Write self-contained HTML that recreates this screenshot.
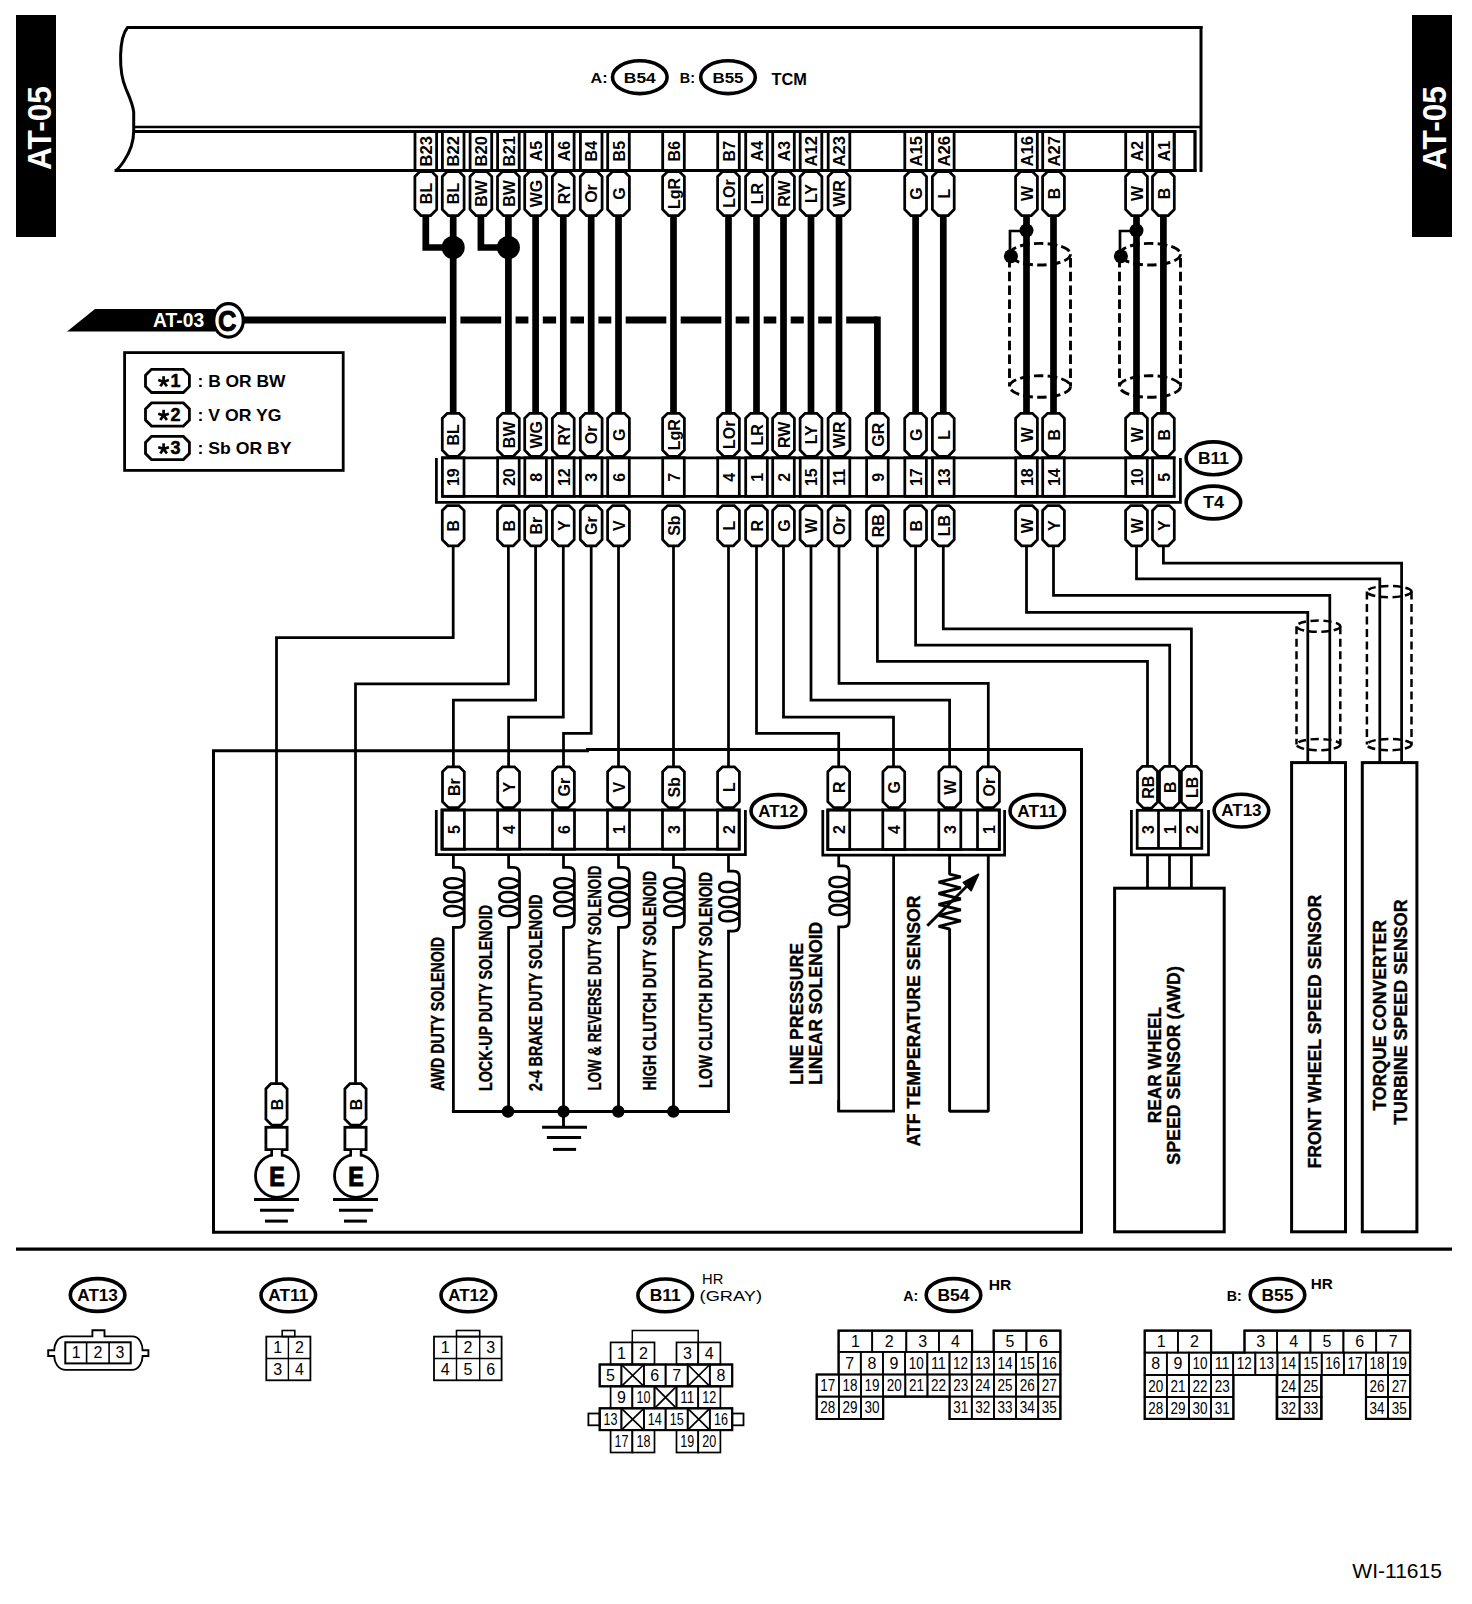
<!DOCTYPE html>
<html><head><meta charset="utf-8"><title>AT-05 wiring diagram</title>
<style>
html,body{margin:0;padding:0;background:#fff;}
svg{display:block;}
text{font-family:"Liberation Sans",sans-serif;}
</style></head>
<body>
<svg width="1472" height="1604" viewBox="0 0 1472 1604">
<rect x="0" y="0" width="1472" height="1604" fill="#fff"/>
<rect x="16" y="15" width="40" height="222" fill="#000"/>
<text transform="translate(51.1,170) rotate(-90)" font-size="34" font-weight="bold" text-anchor="start" fill="#fff" textLength="84" lengthAdjust="spacingAndGlyphs" >AT-05</text>
<rect x="1412" y="15" width="40" height="222" fill="#000"/>
<text transform="translate(1446.4,170) rotate(-90)" font-size="34" font-weight="bold" text-anchor="start" fill="#fff" textLength="84" lengthAdjust="spacingAndGlyphs" >AT-05</text>
<path d="M127.5,27.5 C123,33 121,42 120.6,55 C120.3,68 122,80 126,89 C129,96 132.5,103 133.7,112 L133.7,131 C133.7,142 130,152 124,161 C121,165.5 118.5,168.5 116,170.5" fill="none" stroke="#000" stroke-width="3"/>
<line x1="126.5" y1="27.5" x2="1202.5" y2="27.5" stroke="#000" stroke-width="3" />
<line x1="1201" y1="26" x2="1201" y2="172" stroke="#000" stroke-width="3" />
<line x1="133.7" y1="127" x2="1201" y2="127" stroke="#000" stroke-width="2.5" />
<line x1="133.7" y1="131.5" x2="1195.5" y2="131.5" stroke="#000" stroke-width="2.8" />
<line x1="1195" y1="130" x2="1195" y2="172" stroke="#000" stroke-width="2.8" />
<line x1="114.5" y1="170.5" x2="1196.4" y2="170.5" stroke="#000" stroke-width="2.8" />
<text x="590.6" y="83.4" font-size="15.5" font-weight="bold" text-anchor="start" fill="#000" textLength="17" lengthAdjust="spacingAndGlyphs" >A:</text>
<ellipse cx="639.8" cy="77.2" rx="27.3" ry="16.4" fill="#fff" stroke="#000" stroke-width="3.6"/>
<text x="639.8" y="82.75" font-size="15.5" font-weight="bold" text-anchor="middle" fill="#000" textLength="31.9" lengthAdjust="spacingAndGlyphs" >B54</text>
<text x="679.8" y="83.4" font-size="15.5" font-weight="bold" text-anchor="start" fill="#000" textLength="15.2" lengthAdjust="spacingAndGlyphs" >B:</text>
<ellipse cx="728" cy="77.2" rx="27.3" ry="16.4" fill="#fff" stroke="#000" stroke-width="3.6"/>
<text x="728" y="82.75" font-size="15.5" font-weight="bold" text-anchor="middle" fill="#000" textLength="31" lengthAdjust="spacingAndGlyphs" >B55</text>
<text x="771.6" y="85" font-size="16.5" font-weight="bold" text-anchor="start" fill="#000" textLength="35.4" lengthAdjust="spacingAndGlyphs" >TCM</text>
<rect x="415" y="131.5" width="21.6" height="39" fill="none" stroke="#000" stroke-width="2.8" />
<text transform="translate(432,151.2) rotate(-90)" font-size="16" font-weight="bold" text-anchor="middle" fill="#000" textLength="30.5" lengthAdjust="spacingAndGlyphs" >B23</text>
<rect x="442.4" y="131.5" width="21.6" height="39" fill="none" stroke="#000" stroke-width="2.8" />
<text transform="translate(459.4,151.2) rotate(-90)" font-size="16" font-weight="bold" text-anchor="middle" fill="#000" textLength="30.5" lengthAdjust="spacingAndGlyphs" >B22</text>
<rect x="470.1" y="131.5" width="21.6" height="39" fill="none" stroke="#000" stroke-width="2.8" />
<text transform="translate(487.1,151.2) rotate(-90)" font-size="16" font-weight="bold" text-anchor="middle" fill="#000" textLength="30.5" lengthAdjust="spacingAndGlyphs" >B20</text>
<rect x="497.6" y="131.5" width="21.6" height="39" fill="none" stroke="#000" stroke-width="2.8" />
<text transform="translate(514.6,151.2) rotate(-90)" font-size="16" font-weight="bold" text-anchor="middle" fill="#000" textLength="30.5" lengthAdjust="spacingAndGlyphs" >B21</text>
<rect x="524.8" y="131.5" width="21.6" height="39" fill="none" stroke="#000" stroke-width="2.8" />
<text transform="translate(541.8,151.2) rotate(-90)" font-size="16" font-weight="bold" text-anchor="middle" fill="#000" >A5</text>
<rect x="552.5" y="131.5" width="21.6" height="39" fill="none" stroke="#000" stroke-width="2.8" />
<text transform="translate(569.5,151.2) rotate(-90)" font-size="16" font-weight="bold" text-anchor="middle" fill="#000" >A6</text>
<rect x="580.4" y="131.5" width="21.6" height="39" fill="none" stroke="#000" stroke-width="2.8" />
<text transform="translate(597.4,151.2) rotate(-90)" font-size="16" font-weight="bold" text-anchor="middle" fill="#000" >B4</text>
<rect x="607.7" y="131.5" width="21.6" height="39" fill="none" stroke="#000" stroke-width="2.8" />
<text transform="translate(624.7,151.2) rotate(-90)" font-size="16" font-weight="bold" text-anchor="middle" fill="#000" >B5</text>
<rect x="662.7" y="131.5" width="21.6" height="39" fill="none" stroke="#000" stroke-width="2.8" />
<text transform="translate(679.7,151.2) rotate(-90)" font-size="16" font-weight="bold" text-anchor="middle" fill="#000" >B6</text>
<rect x="717.7" y="131.5" width="21.6" height="39" fill="none" stroke="#000" stroke-width="2.8" />
<text transform="translate(734.7,151.2) rotate(-90)" font-size="16" font-weight="bold" text-anchor="middle" fill="#000" >B7</text>
<rect x="745.7" y="131.5" width="21.6" height="39" fill="none" stroke="#000" stroke-width="2.8" />
<text transform="translate(762.7,151.2) rotate(-90)" font-size="16" font-weight="bold" text-anchor="middle" fill="#000" >A4</text>
<rect x="772.7" y="131.5" width="21.6" height="39" fill="none" stroke="#000" stroke-width="2.8" />
<text transform="translate(789.7,151.2) rotate(-90)" font-size="16" font-weight="bold" text-anchor="middle" fill="#000" >A3</text>
<rect x="800.2" y="131.5" width="21.6" height="39" fill="none" stroke="#000" stroke-width="2.8" />
<text transform="translate(817.2,151.2) rotate(-90)" font-size="16" font-weight="bold" text-anchor="middle" fill="#000" textLength="30.5" lengthAdjust="spacingAndGlyphs" >A12</text>
<rect x="828.2" y="131.5" width="21.6" height="39" fill="none" stroke="#000" stroke-width="2.8" />
<text transform="translate(845.2,151.2) rotate(-90)" font-size="16" font-weight="bold" text-anchor="middle" fill="#000" textLength="30.5" lengthAdjust="spacingAndGlyphs" >A23</text>
<rect x="904.8" y="131.5" width="21.6" height="39" fill="none" stroke="#000" stroke-width="2.8" />
<text transform="translate(921.8,151.2) rotate(-90)" font-size="16" font-weight="bold" text-anchor="middle" fill="#000" textLength="30.5" lengthAdjust="spacingAndGlyphs" >A15</text>
<rect x="932.5" y="131.5" width="21.6" height="39" fill="none" stroke="#000" stroke-width="2.8" />
<text transform="translate(949.5,151.2) rotate(-90)" font-size="16" font-weight="bold" text-anchor="middle" fill="#000" textLength="30.5" lengthAdjust="spacingAndGlyphs" >A26</text>
<rect x="1015.7" y="131.5" width="21.6" height="39" fill="none" stroke="#000" stroke-width="2.8" />
<text transform="translate(1032.7,151.2) rotate(-90)" font-size="16" font-weight="bold" text-anchor="middle" fill="#000" textLength="30.5" lengthAdjust="spacingAndGlyphs" >A16</text>
<rect x="1042.7" y="131.5" width="21.6" height="39" fill="none" stroke="#000" stroke-width="2.8" />
<text transform="translate(1059.7,151.2) rotate(-90)" font-size="16" font-weight="bold" text-anchor="middle" fill="#000" textLength="30.5" lengthAdjust="spacingAndGlyphs" >A27</text>
<rect x="1125.7" y="131.5" width="21.6" height="39" fill="none" stroke="#000" stroke-width="2.8" />
<text transform="translate(1142.7,151.2) rotate(-90)" font-size="16" font-weight="bold" text-anchor="middle" fill="#000" >A2</text>
<rect x="1152.6" y="131.5" width="21.6" height="39" fill="none" stroke="#000" stroke-width="2.8" />
<text transform="translate(1169.6,151.2) rotate(-90)" font-size="16" font-weight="bold" text-anchor="middle" fill="#000" >A1</text>
<rect x="1174.2" y="131.5" width="20.8" height="39" fill="none" stroke="#000" stroke-width="2.8" />
<line x1="235" y1="320" x2="877.4" y2="320" stroke="#000" stroke-width="7" />
<line x1="877.4" y1="316.5" x2="877.4" y2="414" stroke="#000" stroke-width="6.7" />
<rect x="446" y="315" width="14.4" height="10" fill="#fff"/>
<rect x="501.2" y="315" width="14.4" height="10" fill="#fff"/>
<rect x="528.4" y="315" width="14.4" height="10" fill="#fff"/>
<rect x="556.1" y="315" width="14.4" height="10" fill="#fff"/>
<rect x="584" y="315" width="14.4" height="10" fill="#fff"/>
<rect x="611.3" y="315" width="14.4" height="10" fill="#fff"/>
<rect x="666.3" y="315" width="14.4" height="10" fill="#fff"/>
<rect x="721.3" y="315" width="14.4" height="10" fill="#fff"/>
<rect x="749.3" y="315" width="14.4" height="10" fill="#fff"/>
<rect x="776.3" y="315" width="14.4" height="10" fill="#fff"/>
<rect x="803.8" y="315" width="14.4" height="10" fill="#fff"/>
<rect x="831.8" y="315" width="14.4" height="10" fill="#fff"/>
<line x1="453.2" y1="214" x2="453.2" y2="414" stroke="#000" stroke-width="6.7" />
<line x1="508.4" y1="214" x2="508.4" y2="414" stroke="#000" stroke-width="6.7" />
<line x1="535.6" y1="214" x2="535.6" y2="414" stroke="#000" stroke-width="6.7" />
<line x1="563.3" y1="214" x2="563.3" y2="414" stroke="#000" stroke-width="6.7" />
<line x1="591.2" y1="214" x2="591.2" y2="414" stroke="#000" stroke-width="6.7" />
<line x1="618.5" y1="214" x2="618.5" y2="414" stroke="#000" stroke-width="6.7" />
<line x1="673.5" y1="214" x2="673.5" y2="414" stroke="#000" stroke-width="6.7" />
<line x1="728.5" y1="214" x2="728.5" y2="414" stroke="#000" stroke-width="6.7" />
<line x1="756.5" y1="214" x2="756.5" y2="414" stroke="#000" stroke-width="6.7" />
<line x1="783.5" y1="214" x2="783.5" y2="414" stroke="#000" stroke-width="6.7" />
<line x1="811" y1="214" x2="811" y2="414" stroke="#000" stroke-width="6.7" />
<line x1="839" y1="214" x2="839" y2="414" stroke="#000" stroke-width="6.7" />
<line x1="915.6" y1="214" x2="915.6" y2="414" stroke="#000" stroke-width="6.7" />
<line x1="943.3" y1="214" x2="943.3" y2="414" stroke="#000" stroke-width="6.7" />
<line x1="1026.5" y1="214" x2="1026.5" y2="414" stroke="#000" stroke-width="6.7" />
<line x1="1053.5" y1="214" x2="1053.5" y2="414" stroke="#000" stroke-width="6.7" />
<line x1="1136.5" y1="214" x2="1136.5" y2="414" stroke="#000" stroke-width="6.7" />
<line x1="1163.4" y1="214" x2="1163.4" y2="414" stroke="#000" stroke-width="6.7" />
<polyline points="425.8,214 425.8,247.5 453.2,247.5" fill="none" stroke="#000" stroke-width="6.7" stroke-linejoin="miter"/>
<circle cx="453.2" cy="247.5" r="11.5" fill="#000"/>
<polyline points="480.9,214 480.9,247.5 508.4,247.5" fill="none" stroke="#000" stroke-width="6.7" stroke-linejoin="miter"/>
<circle cx="508.4" cy="247.5" r="11.5" fill="#000"/>
<path d="M414.9,176.5 L419.9,171.5 L431.7,171.5 L436.7,176.5 L436.7,209.5 L430.7,215.5 L420.9,215.5 L414.9,209.5 Z" fill="#fff" stroke="#000" stroke-width="2.75"/>
<text transform="translate(432,193.5) rotate(-90)" font-size="16" font-weight="bold" text-anchor="middle" fill="#000" >BL</text>
<path d="M442.3,176.5 L447.3,171.5 L459.1,171.5 L464.1,176.5 L464.1,209.5 L458.1,215.5 L448.3,215.5 L442.3,209.5 Z" fill="#fff" stroke="#000" stroke-width="2.75"/>
<text transform="translate(459.4,193.5) rotate(-90)" font-size="16" font-weight="bold" text-anchor="middle" fill="#000" >BL</text>
<path d="M470,176.5 L475,171.5 L486.8,171.5 L491.8,176.5 L491.8,209.5 L485.8,215.5 L476,215.5 L470,209.5 Z" fill="#fff" stroke="#000" stroke-width="2.75"/>
<text transform="translate(487.1,193.5) rotate(-90)" font-size="16" font-weight="bold" text-anchor="middle" fill="#000" >BW</text>
<path d="M497.5,176.5 L502.5,171.5 L514.3,171.5 L519.3,176.5 L519.3,209.5 L513.3,215.5 L503.5,215.5 L497.5,209.5 Z" fill="#fff" stroke="#000" stroke-width="2.75"/>
<text transform="translate(514.6,193.5) rotate(-90)" font-size="16" font-weight="bold" text-anchor="middle" fill="#000" >BW</text>
<path d="M524.7,176.5 L529.7,171.5 L541.5,171.5 L546.5,176.5 L546.5,209.5 L540.5,215.5 L530.7,215.5 L524.7,209.5 Z" fill="#fff" stroke="#000" stroke-width="2.75"/>
<text transform="translate(541.8,193.5) rotate(-90)" font-size="16" font-weight="bold" text-anchor="middle" fill="#000" >WG</text>
<path d="M552.4,176.5 L557.4,171.5 L569.2,171.5 L574.2,176.5 L574.2,209.5 L568.2,215.5 L558.4,215.5 L552.4,209.5 Z" fill="#fff" stroke="#000" stroke-width="2.75"/>
<text transform="translate(569.5,193.5) rotate(-90)" font-size="16" font-weight="bold" text-anchor="middle" fill="#000" >RY</text>
<path d="M580.3,176.5 L585.3,171.5 L597.1,171.5 L602.1,176.5 L602.1,209.5 L596.1,215.5 L586.3,215.5 L580.3,209.5 Z" fill="#fff" stroke="#000" stroke-width="2.75"/>
<text transform="translate(597.4,193.5) rotate(-90)" font-size="16" font-weight="bold" text-anchor="middle" fill="#000" >Or</text>
<path d="M607.6,176.5 L612.6,171.5 L624.4,171.5 L629.4,176.5 L629.4,209.5 L623.4,215.5 L613.6,215.5 L607.6,209.5 Z" fill="#fff" stroke="#000" stroke-width="2.75"/>
<text transform="translate(624.7,193.5) rotate(-90)" font-size="16" font-weight="bold" text-anchor="middle" fill="#000" >G</text>
<path d="M662.6,176.5 L667.6,171.5 L679.4,171.5 L684.4,176.5 L684.4,209.5 L678.4,215.5 L668.6,215.5 L662.6,209.5 Z" fill="#fff" stroke="#000" stroke-width="2.75"/>
<text transform="translate(679.7,193.5) rotate(-90)" font-size="16" font-weight="bold" text-anchor="middle" fill="#000" >LgR</text>
<path d="M717.6,176.5 L722.6,171.5 L734.4,171.5 L739.4,176.5 L739.4,209.5 L733.4,215.5 L723.6,215.5 L717.6,209.5 Z" fill="#fff" stroke="#000" stroke-width="2.75"/>
<text transform="translate(734.7,193.5) rotate(-90)" font-size="16" font-weight="bold" text-anchor="middle" fill="#000" >LOr</text>
<path d="M745.6,176.5 L750.6,171.5 L762.4,171.5 L767.4,176.5 L767.4,209.5 L761.4,215.5 L751.6,215.5 L745.6,209.5 Z" fill="#fff" stroke="#000" stroke-width="2.75"/>
<text transform="translate(762.7,193.5) rotate(-90)" font-size="16" font-weight="bold" text-anchor="middle" fill="#000" >LR</text>
<path d="M772.6,176.5 L777.6,171.5 L789.4,171.5 L794.4,176.5 L794.4,209.5 L788.4,215.5 L778.6,215.5 L772.6,209.5 Z" fill="#fff" stroke="#000" stroke-width="2.75"/>
<text transform="translate(789.7,193.5) rotate(-90)" font-size="16" font-weight="bold" text-anchor="middle" fill="#000" >RW</text>
<path d="M800.1,176.5 L805.1,171.5 L816.9,171.5 L821.9,176.5 L821.9,209.5 L815.9,215.5 L806.1,215.5 L800.1,209.5 Z" fill="#fff" stroke="#000" stroke-width="2.75"/>
<text transform="translate(817.2,193.5) rotate(-90)" font-size="16" font-weight="bold" text-anchor="middle" fill="#000" >LY</text>
<path d="M828.1,176.5 L833.1,171.5 L844.9,171.5 L849.9,176.5 L849.9,209.5 L843.9,215.5 L834.1,215.5 L828.1,209.5 Z" fill="#fff" stroke="#000" stroke-width="2.75"/>
<text transform="translate(845.2,193.5) rotate(-90)" font-size="16" font-weight="bold" text-anchor="middle" fill="#000" >WR</text>
<path d="M904.7,176.5 L909.7,171.5 L921.5,171.5 L926.5,176.5 L926.5,209.5 L920.5,215.5 L910.7,215.5 L904.7,209.5 Z" fill="#fff" stroke="#000" stroke-width="2.75"/>
<text transform="translate(921.8,193.5) rotate(-90)" font-size="16" font-weight="bold" text-anchor="middle" fill="#000" >G</text>
<path d="M932.4,176.5 L937.4,171.5 L949.2,171.5 L954.2,176.5 L954.2,209.5 L948.2,215.5 L938.4,215.5 L932.4,209.5 Z" fill="#fff" stroke="#000" stroke-width="2.75"/>
<text transform="translate(949.5,193.5) rotate(-90)" font-size="16" font-weight="bold" text-anchor="middle" fill="#000" >L</text>
<path d="M1015.6,176.5 L1020.6,171.5 L1032.4,171.5 L1037.4,176.5 L1037.4,209.5 L1031.4,215.5 L1021.6,215.5 L1015.6,209.5 Z" fill="#fff" stroke="#000" stroke-width="2.75"/>
<text transform="translate(1032.7,193.5) rotate(-90)" font-size="16" font-weight="bold" text-anchor="middle" fill="#000" >W</text>
<path d="M1042.6,176.5 L1047.6,171.5 L1059.4,171.5 L1064.4,176.5 L1064.4,209.5 L1058.4,215.5 L1048.6,215.5 L1042.6,209.5 Z" fill="#fff" stroke="#000" stroke-width="2.75"/>
<text transform="translate(1059.7,193.5) rotate(-90)" font-size="16" font-weight="bold" text-anchor="middle" fill="#000" >B</text>
<path d="M1125.6,176.5 L1130.6,171.5 L1142.4,171.5 L1147.4,176.5 L1147.4,209.5 L1141.4,215.5 L1131.6,215.5 L1125.6,209.5 Z" fill="#fff" stroke="#000" stroke-width="2.75"/>
<text transform="translate(1142.7,193.5) rotate(-90)" font-size="16" font-weight="bold" text-anchor="middle" fill="#000" >W</text>
<path d="M1152.5,176.5 L1157.5,171.5 L1169.3,171.5 L1174.3,176.5 L1174.3,209.5 L1168.3,215.5 L1158.5,215.5 L1152.5,209.5 Z" fill="#fff" stroke="#000" stroke-width="2.75"/>
<text transform="translate(1169.6,193.5) rotate(-90)" font-size="16" font-weight="bold" text-anchor="middle" fill="#000" >B</text>
<circle cx="1026.5" cy="230.5" r="7" fill="#000"/>
<polyline points="1026.5,231 1010,231 1010,256" fill="none" stroke="#000" stroke-width="2.7" stroke-linejoin="miter"/>
<circle cx="1010.9" cy="256.2" r="7" fill="#000"/>
<ellipse cx="1040" cy="254.2" rx="30.5" ry="10.8" fill="none" stroke="#000" stroke-width="2.9" stroke-dasharray="9.5 4.3"/>
<ellipse cx="1040" cy="386.5" rx="30.5" ry="10.8" fill="none" stroke="#000" stroke-width="2.9" stroke-dasharray="9.5 4.3"/>
<line x1="1009.5" y1="258" x2="1009.5" y2="386.5" stroke="#000" stroke-width="2.9" stroke-dasharray="9.5 4.3"/>
<line x1="1070.5" y1="258" x2="1070.5" y2="386.5" stroke="#000" stroke-width="2.9" stroke-dasharray="9.5 4.3"/>
<circle cx="1136.5" cy="230.5" r="7" fill="#000"/>
<polyline points="1136.5,231 1120,231 1120,256" fill="none" stroke="#000" stroke-width="2.7" stroke-linejoin="miter"/>
<circle cx="1120.9" cy="256.2" r="7" fill="#000"/>
<ellipse cx="1150" cy="254.2" rx="30.5" ry="10.8" fill="none" stroke="#000" stroke-width="2.9" stroke-dasharray="9.5 4.3"/>
<ellipse cx="1150" cy="386.5" rx="30.5" ry="10.8" fill="none" stroke="#000" stroke-width="2.9" stroke-dasharray="9.5 4.3"/>
<line x1="1119.5" y1="258" x2="1119.5" y2="386.5" stroke="#000" stroke-width="2.9" stroke-dasharray="9.5 4.3"/>
<line x1="1180.5" y1="258" x2="1180.5" y2="386.5" stroke="#000" stroke-width="2.9" stroke-dasharray="9.5 4.3"/>
<polygon points="67,331.5 95,309 215,309 215,331.5" fill="#000"/>
<text x="153.1" y="326.8" font-size="19.5" font-weight="bold" text-anchor="start" fill="#fff" textLength="51.1" lengthAdjust="spacingAndGlyphs" >AT-03</text>
<ellipse cx="228.5" cy="320.4" rx="14.8" ry="16.8" fill="#fff" stroke="#000" stroke-width="3.2"/>
<text x="227.3" y="331.2" font-size="29" font-weight="bold" text-anchor="middle" fill="#000" textLength="18.5" lengthAdjust="spacingAndGlyphs" stroke="#000" stroke-width="0.9">C</text>
<rect x="124.6" y="352.6" width="218.6" height="117.8" fill="none" stroke="#000" stroke-width="2.8" />
<path d="M145.5,375.3 L151.5,369.3 L183.4,369.3 L189.4,375.3 L189.4,386.5 L183.4,392.5 L151.5,392.5 L145.5,386.5 Z" fill="#fff" stroke="#000" stroke-width="2.8"/>
<line x1="163.6" y1="381.8" x2="163.6" y2="376.2" stroke="#000" stroke-width="2.7" />
<line x1="163.6" y1="381.8" x2="168.93" y2="380.07" stroke="#000" stroke-width="2.7" />
<line x1="163.6" y1="381.8" x2="166.89" y2="386.33" stroke="#000" stroke-width="2.7" />
<line x1="163.6" y1="381.8" x2="160.31" y2="386.33" stroke="#000" stroke-width="2.7" />
<line x1="163.6" y1="381.8" x2="158.27" y2="380.07" stroke="#000" stroke-width="2.7" />
<text x="170.4" y="387.3" font-size="18" font-weight="bold" text-anchor="start" fill="#000" stroke="#000" stroke-width="0.5">1</text>
<text x="197.5" y="387.2" font-size="16.5" font-weight="bold" text-anchor="start" fill="#000" textLength="88" lengthAdjust="spacingAndGlyphs" >: B OR BW</text>
<path d="M145.5,408.9 L151.5,402.9 L183.4,402.9 L189.4,408.9 L189.4,420.1 L183.4,426.1 L151.5,426.1 L145.5,420.1 Z" fill="#fff" stroke="#000" stroke-width="2.8"/>
<line x1="163.6" y1="415.4" x2="163.6" y2="409.8" stroke="#000" stroke-width="2.7" />
<line x1="163.6" y1="415.4" x2="168.93" y2="413.67" stroke="#000" stroke-width="2.7" />
<line x1="163.6" y1="415.4" x2="166.89" y2="419.93" stroke="#000" stroke-width="2.7" />
<line x1="163.6" y1="415.4" x2="160.31" y2="419.93" stroke="#000" stroke-width="2.7" />
<line x1="163.6" y1="415.4" x2="158.27" y2="413.67" stroke="#000" stroke-width="2.7" />
<text x="170.4" y="420.9" font-size="18" font-weight="bold" text-anchor="start" fill="#000" stroke="#000" stroke-width="0.5">2</text>
<text x="197.5" y="420.8" font-size="16.5" font-weight="bold" text-anchor="start" fill="#000" textLength="84" lengthAdjust="spacingAndGlyphs" >: V OR YG</text>
<path d="M145.5,442.4 L151.5,436.4 L183.4,436.4 L189.4,442.4 L189.4,453.6 L183.4,459.6 L151.5,459.6 L145.5,453.6 Z" fill="#fff" stroke="#000" stroke-width="2.8"/>
<line x1="163.6" y1="448.9" x2="163.6" y2="443.3" stroke="#000" stroke-width="2.7" />
<line x1="163.6" y1="448.9" x2="168.93" y2="447.17" stroke="#000" stroke-width="2.7" />
<line x1="163.6" y1="448.9" x2="166.89" y2="453.43" stroke="#000" stroke-width="2.7" />
<line x1="163.6" y1="448.9" x2="160.31" y2="453.43" stroke="#000" stroke-width="2.7" />
<line x1="163.6" y1="448.9" x2="158.27" y2="447.17" stroke="#000" stroke-width="2.7" />
<text x="170.4" y="454.4" font-size="18" font-weight="bold" text-anchor="start" fill="#000" stroke="#000" stroke-width="0.5">3</text>
<text x="197.5" y="454.3" font-size="16.5" font-weight="bold" text-anchor="start" fill="#000" textLength="94" lengthAdjust="spacingAndGlyphs" >: Sb OR BY</text>
<path d="M442.3,418.3 L447.3,413.3 L459.1,413.3 L464.1,418.3 L464.1,450.3 L458.1,456.3 L448.3,456.3 L442.3,450.3 Z" fill="#fff" stroke="#000" stroke-width="2.75"/>
<text transform="translate(459.4,434.8) rotate(-90)" font-size="16" font-weight="bold" text-anchor="middle" fill="#000" >BL</text>
<path d="M497.5,418.3 L502.5,413.3 L514.3,413.3 L519.3,418.3 L519.3,450.3 L513.3,456.3 L503.5,456.3 L497.5,450.3 Z" fill="#fff" stroke="#000" stroke-width="2.75"/>
<text transform="translate(514.6,434.8) rotate(-90)" font-size="16" font-weight="bold" text-anchor="middle" fill="#000" >BW</text>
<path d="M524.7,418.3 L529.7,413.3 L541.5,413.3 L546.5,418.3 L546.5,450.3 L540.5,456.3 L530.7,456.3 L524.7,450.3 Z" fill="#fff" stroke="#000" stroke-width="2.75"/>
<text transform="translate(541.8,434.8) rotate(-90)" font-size="16" font-weight="bold" text-anchor="middle" fill="#000" >WG</text>
<path d="M552.4,418.3 L557.4,413.3 L569.2,413.3 L574.2,418.3 L574.2,450.3 L568.2,456.3 L558.4,456.3 L552.4,450.3 Z" fill="#fff" stroke="#000" stroke-width="2.75"/>
<text transform="translate(569.5,434.8) rotate(-90)" font-size="16" font-weight="bold" text-anchor="middle" fill="#000" >RY</text>
<path d="M580.3,418.3 L585.3,413.3 L597.1,413.3 L602.1,418.3 L602.1,450.3 L596.1,456.3 L586.3,456.3 L580.3,450.3 Z" fill="#fff" stroke="#000" stroke-width="2.75"/>
<text transform="translate(597.4,434.8) rotate(-90)" font-size="16" font-weight="bold" text-anchor="middle" fill="#000" >Or</text>
<path d="M607.6,418.3 L612.6,413.3 L624.4,413.3 L629.4,418.3 L629.4,450.3 L623.4,456.3 L613.6,456.3 L607.6,450.3 Z" fill="#fff" stroke="#000" stroke-width="2.75"/>
<text transform="translate(624.7,434.8) rotate(-90)" font-size="16" font-weight="bold" text-anchor="middle" fill="#000" >G</text>
<path d="M662.6,418.3 L667.6,413.3 L679.4,413.3 L684.4,418.3 L684.4,450.3 L678.4,456.3 L668.6,456.3 L662.6,450.3 Z" fill="#fff" stroke="#000" stroke-width="2.75"/>
<text transform="translate(679.7,434.8) rotate(-90)" font-size="16" font-weight="bold" text-anchor="middle" fill="#000" >LgR</text>
<path d="M717.6,418.3 L722.6,413.3 L734.4,413.3 L739.4,418.3 L739.4,450.3 L733.4,456.3 L723.6,456.3 L717.6,450.3 Z" fill="#fff" stroke="#000" stroke-width="2.75"/>
<text transform="translate(734.7,434.8) rotate(-90)" font-size="16" font-weight="bold" text-anchor="middle" fill="#000" >LOr</text>
<path d="M745.6,418.3 L750.6,413.3 L762.4,413.3 L767.4,418.3 L767.4,450.3 L761.4,456.3 L751.6,456.3 L745.6,450.3 Z" fill="#fff" stroke="#000" stroke-width="2.75"/>
<text transform="translate(762.7,434.8) rotate(-90)" font-size="16" font-weight="bold" text-anchor="middle" fill="#000" >LR</text>
<path d="M772.6,418.3 L777.6,413.3 L789.4,413.3 L794.4,418.3 L794.4,450.3 L788.4,456.3 L778.6,456.3 L772.6,450.3 Z" fill="#fff" stroke="#000" stroke-width="2.75"/>
<text transform="translate(789.7,434.8) rotate(-90)" font-size="16" font-weight="bold" text-anchor="middle" fill="#000" >RW</text>
<path d="M800.1,418.3 L805.1,413.3 L816.9,413.3 L821.9,418.3 L821.9,450.3 L815.9,456.3 L806.1,456.3 L800.1,450.3 Z" fill="#fff" stroke="#000" stroke-width="2.75"/>
<text transform="translate(817.2,434.8) rotate(-90)" font-size="16" font-weight="bold" text-anchor="middle" fill="#000" >LY</text>
<path d="M828.1,418.3 L833.1,413.3 L844.9,413.3 L849.9,418.3 L849.9,450.3 L843.9,456.3 L834.1,456.3 L828.1,450.3 Z" fill="#fff" stroke="#000" stroke-width="2.75"/>
<text transform="translate(845.2,434.8) rotate(-90)" font-size="16" font-weight="bold" text-anchor="middle" fill="#000" >WR</text>
<path d="M866.5,418.3 L871.5,413.3 L883.3,413.3 L888.3,418.3 L888.3,450.3 L882.3,456.3 L872.5,456.3 L866.5,450.3 Z" fill="#fff" stroke="#000" stroke-width="2.75"/>
<text transform="translate(883.6,434.8) rotate(-90)" font-size="16" font-weight="bold" text-anchor="middle" fill="#000" >GR</text>
<path d="M904.7,418.3 L909.7,413.3 L921.5,413.3 L926.5,418.3 L926.5,450.3 L920.5,456.3 L910.7,456.3 L904.7,450.3 Z" fill="#fff" stroke="#000" stroke-width="2.75"/>
<text transform="translate(921.8,434.8) rotate(-90)" font-size="16" font-weight="bold" text-anchor="middle" fill="#000" >G</text>
<path d="M932.4,418.3 L937.4,413.3 L949.2,413.3 L954.2,418.3 L954.2,450.3 L948.2,456.3 L938.4,456.3 L932.4,450.3 Z" fill="#fff" stroke="#000" stroke-width="2.75"/>
<text transform="translate(949.5,434.8) rotate(-90)" font-size="16" font-weight="bold" text-anchor="middle" fill="#000" >L</text>
<path d="M1015.6,418.3 L1020.6,413.3 L1032.4,413.3 L1037.4,418.3 L1037.4,450.3 L1031.4,456.3 L1021.6,456.3 L1015.6,450.3 Z" fill="#fff" stroke="#000" stroke-width="2.75"/>
<text transform="translate(1032.7,434.8) rotate(-90)" font-size="16" font-weight="bold" text-anchor="middle" fill="#000" >W</text>
<path d="M1042.6,418.3 L1047.6,413.3 L1059.4,413.3 L1064.4,418.3 L1064.4,450.3 L1058.4,456.3 L1048.6,456.3 L1042.6,450.3 Z" fill="#fff" stroke="#000" stroke-width="2.75"/>
<text transform="translate(1059.7,434.8) rotate(-90)" font-size="16" font-weight="bold" text-anchor="middle" fill="#000" >B</text>
<path d="M1125.6,418.3 L1130.6,413.3 L1142.4,413.3 L1147.4,418.3 L1147.4,450.3 L1141.4,456.3 L1131.6,456.3 L1125.6,450.3 Z" fill="#fff" stroke="#000" stroke-width="2.75"/>
<text transform="translate(1142.7,434.8) rotate(-90)" font-size="16" font-weight="bold" text-anchor="middle" fill="#000" >W</text>
<path d="M1152.5,418.3 L1157.5,413.3 L1169.3,413.3 L1174.3,418.3 L1174.3,450.3 L1168.3,456.3 L1158.5,456.3 L1152.5,450.3 Z" fill="#fff" stroke="#000" stroke-width="2.75"/>
<text transform="translate(1169.6,434.8) rotate(-90)" font-size="16" font-weight="bold" text-anchor="middle" fill="#000" >B</text>
<line x1="441.5" y1="457.8" x2="1175.5" y2="457.8" stroke="#000" stroke-width="2.75" />
<line x1="441.5" y1="496.3" x2="1175.5" y2="496.3" stroke="#000" stroke-width="2.75" />
<polyline points="436.4,458 436.4,502.3 1180.4,502.3 1180.4,458" fill="none" stroke="#000" stroke-width="2.75" stroke-linejoin="miter"/>
<rect x="442.4" y="457.8" width="21.6" height="38.5" fill="none" stroke="#000" stroke-width="2.75" />
<text transform="translate(459.4,477.2) rotate(-90)" font-size="16" font-weight="bold" text-anchor="middle" fill="#000" >19</text>
<rect x="497.6" y="457.8" width="21.6" height="38.5" fill="none" stroke="#000" stroke-width="2.75" />
<text transform="translate(514.6,477.2) rotate(-90)" font-size="16" font-weight="bold" text-anchor="middle" fill="#000" >20</text>
<rect x="524.8" y="457.8" width="21.6" height="38.5" fill="none" stroke="#000" stroke-width="2.75" />
<text transform="translate(541.8,477.2) rotate(-90)" font-size="16" font-weight="bold" text-anchor="middle" fill="#000" >8</text>
<rect x="552.5" y="457.8" width="21.6" height="38.5" fill="none" stroke="#000" stroke-width="2.75" />
<text transform="translate(569.5,477.2) rotate(-90)" font-size="16" font-weight="bold" text-anchor="middle" fill="#000" >12</text>
<rect x="580.4" y="457.8" width="21.6" height="38.5" fill="none" stroke="#000" stroke-width="2.75" />
<text transform="translate(597.4,477.2) rotate(-90)" font-size="16" font-weight="bold" text-anchor="middle" fill="#000" >3</text>
<rect x="607.7" y="457.8" width="21.6" height="38.5" fill="none" stroke="#000" stroke-width="2.75" />
<text transform="translate(624.7,477.2) rotate(-90)" font-size="16" font-weight="bold" text-anchor="middle" fill="#000" >6</text>
<rect x="662.7" y="457.8" width="21.6" height="38.5" fill="none" stroke="#000" stroke-width="2.75" />
<text transform="translate(679.7,477.2) rotate(-90)" font-size="16" font-weight="bold" text-anchor="middle" fill="#000" >7</text>
<rect x="717.7" y="457.8" width="21.6" height="38.5" fill="none" stroke="#000" stroke-width="2.75" />
<text transform="translate(734.7,477.2) rotate(-90)" font-size="16" font-weight="bold" text-anchor="middle" fill="#000" >4</text>
<rect x="745.7" y="457.8" width="21.6" height="38.5" fill="none" stroke="#000" stroke-width="2.75" />
<text transform="translate(762.7,477.2) rotate(-90)" font-size="16" font-weight="bold" text-anchor="middle" fill="#000" >1</text>
<rect x="772.7" y="457.8" width="21.6" height="38.5" fill="none" stroke="#000" stroke-width="2.75" />
<text transform="translate(789.7,477.2) rotate(-90)" font-size="16" font-weight="bold" text-anchor="middle" fill="#000" >2</text>
<rect x="800.2" y="457.8" width="21.6" height="38.5" fill="none" stroke="#000" stroke-width="2.75" />
<text transform="translate(817.2,477.2) rotate(-90)" font-size="16" font-weight="bold" text-anchor="middle" fill="#000" >15</text>
<rect x="828.2" y="457.8" width="21.6" height="38.5" fill="none" stroke="#000" stroke-width="2.75" />
<text transform="translate(845.2,477.2) rotate(-90)" font-size="16" font-weight="bold" text-anchor="middle" fill="#000" >11</text>
<rect x="866.6" y="457.8" width="21.6" height="38.5" fill="none" stroke="#000" stroke-width="2.75" />
<text transform="translate(883.6,477.2) rotate(-90)" font-size="16" font-weight="bold" text-anchor="middle" fill="#000" >9</text>
<rect x="904.8" y="457.8" width="21.6" height="38.5" fill="none" stroke="#000" stroke-width="2.75" />
<text transform="translate(921.8,477.2) rotate(-90)" font-size="16" font-weight="bold" text-anchor="middle" fill="#000" >17</text>
<rect x="932.5" y="457.8" width="21.6" height="38.5" fill="none" stroke="#000" stroke-width="2.75" />
<text transform="translate(949.5,477.2) rotate(-90)" font-size="16" font-weight="bold" text-anchor="middle" fill="#000" >13</text>
<rect x="1015.7" y="457.8" width="21.6" height="38.5" fill="none" stroke="#000" stroke-width="2.75" />
<text transform="translate(1032.7,477.2) rotate(-90)" font-size="16" font-weight="bold" text-anchor="middle" fill="#000" >18</text>
<rect x="1042.7" y="457.8" width="21.6" height="38.5" fill="none" stroke="#000" stroke-width="2.75" />
<text transform="translate(1059.7,477.2) rotate(-90)" font-size="16" font-weight="bold" text-anchor="middle" fill="#000" >14</text>
<rect x="1125.7" y="457.8" width="21.6" height="38.5" fill="none" stroke="#000" stroke-width="2.75" />
<text transform="translate(1142.7,477.2) rotate(-90)" font-size="16" font-weight="bold" text-anchor="middle" fill="#000" >10</text>
<rect x="1152.6" y="457.8" width="21.6" height="38.5" fill="none" stroke="#000" stroke-width="2.75" />
<text transform="translate(1169.6,477.2) rotate(-90)" font-size="16" font-weight="bold" text-anchor="middle" fill="#000" >5</text>
<ellipse cx="1213.4" cy="458.3" rx="27.3" ry="16.4" fill="#fff" stroke="#000" stroke-width="3.6"/>
<text x="1213.4" y="464.03" font-size="16" font-weight="bold" text-anchor="middle" fill="#000" textLength="31" lengthAdjust="spacingAndGlyphs" >B11</text>
<ellipse cx="1213.4" cy="502.5" rx="27.3" ry="16.4" fill="#fff" stroke="#000" stroke-width="3.6"/>
<text x="1213.4" y="508.23" font-size="16" font-weight="bold" text-anchor="middle" fill="#000" textLength="21" lengthAdjust="spacingAndGlyphs" >T4</text>
<polyline points="453.2,546 453.2,637.5 276.5,637.5 276.5,1084" fill="none" stroke="#000" stroke-width="2.75" stroke-linejoin="miter"/>
<polyline points="508.4,546 508.4,683.8 355.5,683.8 355.5,1084" fill="none" stroke="#000" stroke-width="2.75" stroke-linejoin="miter"/>
<polyline points="535.6,546 535.6,700 453.4,700 453.4,767" fill="none" stroke="#000" stroke-width="2.75" stroke-linejoin="miter"/>
<polyline points="563.3,546 563.3,717 508.6,717 508.6,767" fill="none" stroke="#000" stroke-width="2.75" stroke-linejoin="miter"/>
<polyline points="591.2,546 591.2,733.3 563.5,733.3 563.5,767" fill="none" stroke="#000" stroke-width="2.75" stroke-linejoin="miter"/>
<polyline points="618.5,546 618.5,767" fill="none" stroke="#000" stroke-width="2.75" stroke-linejoin="miter"/>
<polyline points="673.5,546 673.5,767" fill="none" stroke="#000" stroke-width="2.75" stroke-linejoin="miter"/>
<polyline points="728.5,546 728.5,767" fill="none" stroke="#000" stroke-width="2.75" stroke-linejoin="miter"/>
<polyline points="756.5,546 756.5,733.3 838.7,733.3 838.7,767" fill="none" stroke="#000" stroke-width="2.75" stroke-linejoin="miter"/>
<polyline points="783.5,546 783.5,717 893.5,717 893.5,767" fill="none" stroke="#000" stroke-width="2.75" stroke-linejoin="miter"/>
<polyline points="811,546 811,700 949.6,700 949.6,767" fill="none" stroke="#000" stroke-width="2.75" stroke-linejoin="miter"/>
<polyline points="839,546 839,683.3 988.3,683.3 988.3,767" fill="none" stroke="#000" stroke-width="2.75" stroke-linejoin="miter"/>
<polyline points="877.4,546 877.4,661.3 1147.5,661.3 1147.5,766" fill="none" stroke="#000" stroke-width="2.75" stroke-linejoin="miter"/>
<polyline points="915.6,546 915.6,645 1169.7,645 1169.7,766" fill="none" stroke="#000" stroke-width="2.75" stroke-linejoin="miter"/>
<polyline points="943.3,546 943.3,628.8 1191.4,628.8 1191.4,766" fill="none" stroke="#000" stroke-width="2.75" stroke-linejoin="miter"/>
<polyline points="1026.5,546 1026.5,612.3 1307.8,612.3 1307.8,762" fill="none" stroke="#000" stroke-width="2.75" stroke-linejoin="miter"/>
<polyline points="1053.5,546 1053.5,595.3 1329.8,595.3 1329.8,762" fill="none" stroke="#000" stroke-width="2.75" stroke-linejoin="miter"/>
<polyline points="1136.5,546 1136.5,578.8 1379.8,578.8 1379.8,762" fill="none" stroke="#000" stroke-width="2.75" stroke-linejoin="miter"/>
<polyline points="1163.4,546 1163.4,563.2 1401.6,563.2 1401.6,762" fill="none" stroke="#000" stroke-width="2.75" stroke-linejoin="miter"/>
<path d="M442.3,510.5 L447.3,505.5 L459.1,505.5 L464.1,510.5 L464.1,539.8 L458.1,545.8 L448.3,545.8 L442.3,539.8 Z" fill="#fff" stroke="#000" stroke-width="2.75"/>
<text transform="translate(459.4,525.65) rotate(-90)" font-size="16" font-weight="bold" text-anchor="middle" fill="#000" >B</text>
<path d="M497.5,510.5 L502.5,505.5 L514.3,505.5 L519.3,510.5 L519.3,539.8 L513.3,545.8 L503.5,545.8 L497.5,539.8 Z" fill="#fff" stroke="#000" stroke-width="2.75"/>
<text transform="translate(514.6,525.65) rotate(-90)" font-size="16" font-weight="bold" text-anchor="middle" fill="#000" >B</text>
<path d="M524.7,510.5 L529.7,505.5 L541.5,505.5 L546.5,510.5 L546.5,539.8 L540.5,545.8 L530.7,545.8 L524.7,539.8 Z" fill="#fff" stroke="#000" stroke-width="2.75"/>
<text transform="translate(541.8,525.65) rotate(-90)" font-size="16" font-weight="bold" text-anchor="middle" fill="#000" >Br</text>
<path d="M552.4,510.5 L557.4,505.5 L569.2,505.5 L574.2,510.5 L574.2,539.8 L568.2,545.8 L558.4,545.8 L552.4,539.8 Z" fill="#fff" stroke="#000" stroke-width="2.75"/>
<text transform="translate(569.5,525.65) rotate(-90)" font-size="16" font-weight="bold" text-anchor="middle" fill="#000" >Y</text>
<path d="M580.3,510.5 L585.3,505.5 L597.1,505.5 L602.1,510.5 L602.1,539.8 L596.1,545.8 L586.3,545.8 L580.3,539.8 Z" fill="#fff" stroke="#000" stroke-width="2.75"/>
<text transform="translate(597.4,525.65) rotate(-90)" font-size="16" font-weight="bold" text-anchor="middle" fill="#000" >Gr</text>
<path d="M607.6,510.5 L612.6,505.5 L624.4,505.5 L629.4,510.5 L629.4,539.8 L623.4,545.8 L613.6,545.8 L607.6,539.8 Z" fill="#fff" stroke="#000" stroke-width="2.75"/>
<text transform="translate(624.7,525.65) rotate(-90)" font-size="16" font-weight="bold" text-anchor="middle" fill="#000" >V</text>
<path d="M662.6,510.5 L667.6,505.5 L679.4,505.5 L684.4,510.5 L684.4,539.8 L678.4,545.8 L668.6,545.8 L662.6,539.8 Z" fill="#fff" stroke="#000" stroke-width="2.75"/>
<text transform="translate(679.7,525.65) rotate(-90)" font-size="16" font-weight="bold" text-anchor="middle" fill="#000" >Sb</text>
<path d="M717.6,510.5 L722.6,505.5 L734.4,505.5 L739.4,510.5 L739.4,539.8 L733.4,545.8 L723.6,545.8 L717.6,539.8 Z" fill="#fff" stroke="#000" stroke-width="2.75"/>
<text transform="translate(734.7,525.65) rotate(-90)" font-size="16" font-weight="bold" text-anchor="middle" fill="#000" >L</text>
<path d="M745.6,510.5 L750.6,505.5 L762.4,505.5 L767.4,510.5 L767.4,539.8 L761.4,545.8 L751.6,545.8 L745.6,539.8 Z" fill="#fff" stroke="#000" stroke-width="2.75"/>
<text transform="translate(762.7,525.65) rotate(-90)" font-size="16" font-weight="bold" text-anchor="middle" fill="#000" >R</text>
<path d="M772.6,510.5 L777.6,505.5 L789.4,505.5 L794.4,510.5 L794.4,539.8 L788.4,545.8 L778.6,545.8 L772.6,539.8 Z" fill="#fff" stroke="#000" stroke-width="2.75"/>
<text transform="translate(789.7,525.65) rotate(-90)" font-size="16" font-weight="bold" text-anchor="middle" fill="#000" >G</text>
<path d="M800.1,510.5 L805.1,505.5 L816.9,505.5 L821.9,510.5 L821.9,539.8 L815.9,545.8 L806.1,545.8 L800.1,539.8 Z" fill="#fff" stroke="#000" stroke-width="2.75"/>
<text transform="translate(817.2,525.65) rotate(-90)" font-size="16" font-weight="bold" text-anchor="middle" fill="#000" >W</text>
<path d="M828.1,510.5 L833.1,505.5 L844.9,505.5 L849.9,510.5 L849.9,539.8 L843.9,545.8 L834.1,545.8 L828.1,539.8 Z" fill="#fff" stroke="#000" stroke-width="2.75"/>
<text transform="translate(845.2,525.65) rotate(-90)" font-size="16" font-weight="bold" text-anchor="middle" fill="#000" >Or</text>
<path d="M866.5,510.5 L871.5,505.5 L883.3,505.5 L888.3,510.5 L888.3,539.8 L882.3,545.8 L872.5,545.8 L866.5,539.8 Z" fill="#fff" stroke="#000" stroke-width="2.75"/>
<text transform="translate(883.6,525.65) rotate(-90)" font-size="16" font-weight="bold" text-anchor="middle" fill="#000" >RB</text>
<path d="M904.7,510.5 L909.7,505.5 L921.5,505.5 L926.5,510.5 L926.5,539.8 L920.5,545.8 L910.7,545.8 L904.7,539.8 Z" fill="#fff" stroke="#000" stroke-width="2.75"/>
<text transform="translate(921.8,525.65) rotate(-90)" font-size="16" font-weight="bold" text-anchor="middle" fill="#000" >B</text>
<path d="M932.4,510.5 L937.4,505.5 L949.2,505.5 L954.2,510.5 L954.2,539.8 L948.2,545.8 L938.4,545.8 L932.4,539.8 Z" fill="#fff" stroke="#000" stroke-width="2.75"/>
<text transform="translate(949.5,525.65) rotate(-90)" font-size="16" font-weight="bold" text-anchor="middle" fill="#000" >LB</text>
<path d="M1015.6,510.5 L1020.6,505.5 L1032.4,505.5 L1037.4,510.5 L1037.4,539.8 L1031.4,545.8 L1021.6,545.8 L1015.6,539.8 Z" fill="#fff" stroke="#000" stroke-width="2.75"/>
<text transform="translate(1032.7,525.65) rotate(-90)" font-size="16" font-weight="bold" text-anchor="middle" fill="#000" >W</text>
<path d="M1042.6,510.5 L1047.6,505.5 L1059.4,505.5 L1064.4,510.5 L1064.4,539.8 L1058.4,545.8 L1048.6,545.8 L1042.6,539.8 Z" fill="#fff" stroke="#000" stroke-width="2.75"/>
<text transform="translate(1059.7,525.65) rotate(-90)" font-size="16" font-weight="bold" text-anchor="middle" fill="#000" >Y</text>
<path d="M1125.6,510.5 L1130.6,505.5 L1142.4,505.5 L1147.4,510.5 L1147.4,539.8 L1141.4,545.8 L1131.6,545.8 L1125.6,539.8 Z" fill="#fff" stroke="#000" stroke-width="2.75"/>
<text transform="translate(1142.7,525.65) rotate(-90)" font-size="16" font-weight="bold" text-anchor="middle" fill="#000" >W</text>
<path d="M1152.5,510.5 L1157.5,505.5 L1169.3,505.5 L1174.3,510.5 L1174.3,539.8 L1168.3,545.8 L1158.5,545.8 L1152.5,539.8 Z" fill="#fff" stroke="#000" stroke-width="2.75"/>
<text transform="translate(1169.6,525.65) rotate(-90)" font-size="16" font-weight="bold" text-anchor="middle" fill="#000" >Y</text>
<ellipse cx="1318.4" cy="626.2" rx="21.9" ry="5.6" fill="none" stroke="#000" stroke-width="2.5" stroke-dasharray="8 4.5"/>
<ellipse cx="1318.4" cy="744.6" rx="21.9" ry="5.6" fill="none" stroke="#000" stroke-width="2.5" stroke-dasharray="8 4.5"/>
<line x1="1296.5" y1="626.2" x2="1296.5" y2="744.6" stroke="#000" stroke-width="2.5" stroke-dasharray="8 4.5"/>
<line x1="1340.3" y1="626.2" x2="1340.3" y2="744.6" stroke="#000" stroke-width="2.5" stroke-dasharray="8 4.5"/>
<ellipse cx="1389.2" cy="591.6" rx="22.3" ry="5.6" fill="none" stroke="#000" stroke-width="2.5" stroke-dasharray="8 4.5"/>
<ellipse cx="1389.2" cy="744.6" rx="22.3" ry="5.6" fill="none" stroke="#000" stroke-width="2.5" stroke-dasharray="8 4.5"/>
<line x1="1366.9" y1="591.6" x2="1366.9" y2="744.6" stroke="#000" stroke-width="2.5" stroke-dasharray="8 4.5"/>
<line x1="1411.5" y1="591.6" x2="1411.5" y2="744.6" stroke="#000" stroke-width="2.5" stroke-dasharray="8 4.5"/>
<path d="M213.5,750.8 H587.5 V749.5 H1081.5 V1232.3 H213.5 Z" fill="none" stroke="#000" stroke-width="3"/>
<path d="M442.5,771.8 L447.5,766.8 L459.3,766.8 L464.3,771.8 L464.3,801.6 L458.3,807.6 L448.5,807.6 L442.5,801.6 Z" fill="#fff" stroke="#000" stroke-width="2.75"/>
<text transform="translate(459.6,787.2) rotate(-90)" font-size="16" font-weight="bold" text-anchor="middle" fill="#000" >Br</text>
<path d="M497.7,771.8 L502.7,766.8 L514.5,766.8 L519.5,771.8 L519.5,801.6 L513.5,807.6 L503.7,807.6 L497.7,801.6 Z" fill="#fff" stroke="#000" stroke-width="2.75"/>
<text transform="translate(514.8,787.2) rotate(-90)" font-size="16" font-weight="bold" text-anchor="middle" fill="#000" >Y</text>
<path d="M552.6,771.8 L557.6,766.8 L569.4,766.8 L574.4,771.8 L574.4,801.6 L568.4,807.6 L558.6,807.6 L552.6,801.6 Z" fill="#fff" stroke="#000" stroke-width="2.75"/>
<text transform="translate(569.7,787.2) rotate(-90)" font-size="16" font-weight="bold" text-anchor="middle" fill="#000" >Gr</text>
<path d="M607.6,771.8 L612.6,766.8 L624.4,766.8 L629.4,771.8 L629.4,801.6 L623.4,807.6 L613.6,807.6 L607.6,801.6 Z" fill="#fff" stroke="#000" stroke-width="2.75"/>
<text transform="translate(624.7,787.2) rotate(-90)" font-size="16" font-weight="bold" text-anchor="middle" fill="#000" >V</text>
<path d="M662.6,771.8 L667.6,766.8 L679.4,766.8 L684.4,771.8 L684.4,801.6 L678.4,807.6 L668.6,807.6 L662.6,801.6 Z" fill="#fff" stroke="#000" stroke-width="2.75"/>
<text transform="translate(679.7,787.2) rotate(-90)" font-size="16" font-weight="bold" text-anchor="middle" fill="#000" >Sb</text>
<path d="M717.6,771.8 L722.6,766.8 L734.4,766.8 L739.4,771.8 L739.4,801.6 L733.4,807.6 L723.6,807.6 L717.6,801.6 Z" fill="#fff" stroke="#000" stroke-width="2.75"/>
<text transform="translate(734.7,787.2) rotate(-90)" font-size="16" font-weight="bold" text-anchor="middle" fill="#000" >L</text>
<rect x="441.8" y="810" width="297.4" height="39.2" fill="none" stroke="#000" stroke-width="2.75" />
<rect x="442.4" y="810" width="22" height="39.2" fill="none" stroke="#000" stroke-width="2.75" />
<text transform="translate(459.6,829.6) rotate(-90)" font-size="16" font-weight="bold" text-anchor="middle" fill="#000" >5</text>
<rect x="497.6" y="810" width="22" height="39.2" fill="none" stroke="#000" stroke-width="2.75" />
<text transform="translate(514.8,829.6) rotate(-90)" font-size="16" font-weight="bold" text-anchor="middle" fill="#000" >4</text>
<rect x="552.5" y="810" width="22" height="39.2" fill="none" stroke="#000" stroke-width="2.75" />
<text transform="translate(569.7,829.6) rotate(-90)" font-size="16" font-weight="bold" text-anchor="middle" fill="#000" >6</text>
<rect x="607.5" y="810" width="22" height="39.2" fill="none" stroke="#000" stroke-width="2.75" />
<text transform="translate(624.7,829.6) rotate(-90)" font-size="16" font-weight="bold" text-anchor="middle" fill="#000" >1</text>
<rect x="662.5" y="810" width="22" height="39.2" fill="none" stroke="#000" stroke-width="2.75" />
<text transform="translate(679.7,829.6) rotate(-90)" font-size="16" font-weight="bold" text-anchor="middle" fill="#000" >3</text>
<rect x="717.5" y="810" width="21.7" height="39.2" fill="none" stroke="#000" stroke-width="2.75" />
<text transform="translate(734.7,829.6) rotate(-90)" font-size="16" font-weight="bold" text-anchor="middle" fill="#000" >2</text>
<polyline points="436.3,810 436.3,854.5 745.4,854.5 745.4,810" fill="none" stroke="#000" stroke-width="2.75" stroke-linejoin="miter"/>
<ellipse cx="778.3" cy="811" rx="27.3" ry="16.4" fill="#fff" stroke="#000" stroke-width="3.6"/>
<text x="778.3" y="816.73" font-size="16" font-weight="bold" text-anchor="middle" fill="#000" textLength="40" lengthAdjust="spacingAndGlyphs" >AT12</text>
<path d="M827.8,771.8 L832.8,766.8 L844.6,766.8 L849.6,771.8 L849.6,801.6 L843.6,807.6 L833.8,807.6 L827.8,801.6 Z" fill="#fff" stroke="#000" stroke-width="2.75"/>
<text transform="translate(844.9,787.2) rotate(-90)" font-size="16" font-weight="bold" text-anchor="middle" fill="#000" >R</text>
<path d="M882.9,771.8 L887.9,766.8 L899.7,766.8 L904.7,771.8 L904.7,801.6 L898.7,807.6 L888.9,807.6 L882.9,801.6 Z" fill="#fff" stroke="#000" stroke-width="2.75"/>
<text transform="translate(900,787.2) rotate(-90)" font-size="16" font-weight="bold" text-anchor="middle" fill="#000" >G</text>
<path d="M938.9,771.8 L943.9,766.8 L955.7,766.8 L960.7,771.8 L960.7,801.6 L954.7,807.6 L944.9,807.6 L938.9,801.6 Z" fill="#fff" stroke="#000" stroke-width="2.75"/>
<text transform="translate(956,787.2) rotate(-90)" font-size="16" font-weight="bold" text-anchor="middle" fill="#000" >W</text>
<path d="M977.6,771.8 L982.6,766.8 L994.4,766.8 L999.4,771.8 L999.4,801.6 L993.4,807.6 L983.6,807.6 L977.6,801.6 Z" fill="#fff" stroke="#000" stroke-width="2.75"/>
<text transform="translate(994.7,787.2) rotate(-90)" font-size="16" font-weight="bold" text-anchor="middle" fill="#000" >Or</text>
<rect x="827.8" y="810" width="171.5" height="39.5" fill="none" stroke="#000" stroke-width="2.75" />
<rect x="827.8" y="810" width="21.9" height="39.5" fill="none" stroke="#000" stroke-width="2.75" />
<text transform="translate(844.9,829.6) rotate(-90)" font-size="16" font-weight="bold" text-anchor="middle" fill="#000" >2</text>
<rect x="882.8" y="810" width="22" height="39.5" fill="none" stroke="#000" stroke-width="2.75" />
<text transform="translate(900,829.6) rotate(-90)" font-size="16" font-weight="bold" text-anchor="middle" fill="#000" >4</text>
<rect x="938.8" y="810" width="22" height="39.5" fill="none" stroke="#000" stroke-width="2.75" />
<text transform="translate(956,829.6) rotate(-90)" font-size="16" font-weight="bold" text-anchor="middle" fill="#000" >3</text>
<rect x="977.5" y="810" width="21.8" height="39.5" fill="none" stroke="#000" stroke-width="2.75" />
<text transform="translate(994.7,829.6) rotate(-90)" font-size="16" font-weight="bold" text-anchor="middle" fill="#000" >1</text>
<polyline points="822.8,810 822.8,855 1004.6,855 1004.6,810" fill="none" stroke="#000" stroke-width="2.75" stroke-linejoin="miter"/>
<ellipse cx="1037.3" cy="811" rx="27.3" ry="16.4" fill="#fff" stroke="#000" stroke-width="3.6"/>
<text x="1037.3" y="816.73" font-size="16" font-weight="bold" text-anchor="middle" fill="#000" textLength="40" lengthAdjust="spacingAndGlyphs" >AT11</text>
<path d="M1137.5,771.3 L1142.5,766.3 L1152.5,766.3 L1157.5,771.3 L1157.5,802.2 L1151.5,808.2 L1143.5,808.2 L1137.5,802.2 Z" fill="#fff" stroke="#000" stroke-width="2.75"/>
<text transform="translate(1153.7,787.25) rotate(-90)" font-size="16" font-weight="bold" text-anchor="middle" fill="#000" >RB</text>
<path d="M1159.5,771.3 L1164.5,766.3 L1174.5,766.3 L1179.5,771.3 L1179.5,802.2 L1173.5,808.2 L1165.5,808.2 L1159.5,802.2 Z" fill="#fff" stroke="#000" stroke-width="2.75"/>
<text transform="translate(1175.7,787.25) rotate(-90)" font-size="16" font-weight="bold" text-anchor="middle" fill="#000" >B</text>
<path d="M1181.4,771.3 L1186.4,766.3 L1196.4,766.3 L1201.4,771.3 L1201.4,802.2 L1195.4,808.2 L1187.4,808.2 L1181.4,802.2 Z" fill="#fff" stroke="#000" stroke-width="2.75"/>
<text transform="translate(1197.6,787.25) rotate(-90)" font-size="16" font-weight="bold" text-anchor="middle" fill="#000" >LB</text>
<rect x="1137.2" y="810.3" width="64.6" height="38.1" fill="none" stroke="#000" stroke-width="2.75" />
<line x1="1158.5" y1="810" x2="1158.5" y2="848.4" stroke="#000" stroke-width="2.75" />
<line x1="1180.4" y1="810" x2="1180.4" y2="848.4" stroke="#000" stroke-width="2.75" />
<text transform="translate(1153.7,829.6) rotate(-90)" font-size="16" font-weight="bold" text-anchor="middle" fill="#000" >3</text>
<text transform="translate(1175.7,829.6) rotate(-90)" font-size="16" font-weight="bold" text-anchor="middle" fill="#000" >1</text>
<text transform="translate(1197.6,829.6) rotate(-90)" font-size="16" font-weight="bold" text-anchor="middle" fill="#000" >2</text>
<polyline points="1131.4,810 1131.4,854.8 1208.5,854.8 1208.5,810" fill="none" stroke="#000" stroke-width="2.75" stroke-linejoin="miter"/>
<ellipse cx="1241.4" cy="810.6" rx="27.3" ry="16.4" fill="#fff" stroke="#000" stroke-width="3.6"/>
<text x="1241.4" y="816.33" font-size="16" font-weight="bold" text-anchor="middle" fill="#000" textLength="40.4" lengthAdjust="spacingAndGlyphs" >AT13</text>
<line x1="1147.5" y1="854" x2="1147.5" y2="889" stroke="#000" stroke-width="2.75" />
<line x1="1169.5" y1="854" x2="1169.5" y2="889" stroke="#000" stroke-width="2.75" />
<line x1="1191.4" y1="854" x2="1191.4" y2="889" stroke="#000" stroke-width="2.75" />
<path d="M453.4,854 V867.3 H458.4 Q464.3,867.3 464.3,873.3 V921.4 Q464.3,927.4 458.4,927.4 H453.4 V1111.5" fill="none" stroke="#000" stroke-width="2.75"/>
<path d="M463.7,881.9 C457.4,876.9 444.2,876.9 444.2,883.1 C444.2,889.3 457.4,889.3 463.7,884.3" fill="none" stroke="#000" stroke-width="2.75"/>
<path d="M463.7,895.8 C457.4,890.8 444.2,890.8 444.2,897 C444.2,903.2 457.4,903.2 463.7,898.2" fill="none" stroke="#000" stroke-width="2.75"/>
<path d="M463.7,909.8 C457.4,904.8 444.2,904.8 444.2,911 C444.2,917.2 457.4,917.2 463.7,912.2" fill="none" stroke="#000" stroke-width="2.75"/>
<path d="M508.6,854 V867.3 H513.6 Q519.5,867.3 519.5,873.3 V921.4 Q519.5,927.4 513.6,927.4 H508.6 V1111.5" fill="none" stroke="#000" stroke-width="2.75"/>
<path d="M518.9,881.9 C512.6,876.9 499.4,876.9 499.4,883.1 C499.4,889.3 512.6,889.3 518.9,884.3" fill="none" stroke="#000" stroke-width="2.75"/>
<path d="M518.9,895.8 C512.6,890.8 499.4,890.8 499.4,897 C499.4,903.2 512.6,903.2 518.9,898.2" fill="none" stroke="#000" stroke-width="2.75"/>
<path d="M518.9,909.8 C512.6,904.8 499.4,904.8 499.4,911 C499.4,917.2 512.6,917.2 518.9,912.2" fill="none" stroke="#000" stroke-width="2.75"/>
<path d="M563.5,854 V867.3 H568.5 Q574.4,867.3 574.4,873.3 V921.4 Q574.4,927.4 568.5,927.4 H563.5 V1111.5" fill="none" stroke="#000" stroke-width="2.75"/>
<path d="M573.8,881.9 C567.5,876.9 554.3,876.9 554.3,883.1 C554.3,889.3 567.5,889.3 573.8,884.3" fill="none" stroke="#000" stroke-width="2.75"/>
<path d="M573.8,895.8 C567.5,890.8 554.3,890.8 554.3,897 C554.3,903.2 567.5,903.2 573.8,898.2" fill="none" stroke="#000" stroke-width="2.75"/>
<path d="M573.8,909.8 C567.5,904.8 554.3,904.8 554.3,911 C554.3,917.2 567.5,917.2 573.8,912.2" fill="none" stroke="#000" stroke-width="2.75"/>
<path d="M618.5,854 V867.3 H623.5 Q629.4,867.3 629.4,873.3 V921.4 Q629.4,927.4 623.5,927.4 H618.5 V1111.5" fill="none" stroke="#000" stroke-width="2.75"/>
<path d="M628.8,881.9 C622.5,876.9 609.3,876.9 609.3,883.1 C609.3,889.3 622.5,889.3 628.8,884.3" fill="none" stroke="#000" stroke-width="2.75"/>
<path d="M628.8,895.8 C622.5,890.8 609.3,890.8 609.3,897 C609.3,903.2 622.5,903.2 628.8,898.2" fill="none" stroke="#000" stroke-width="2.75"/>
<path d="M628.8,909.8 C622.5,904.8 609.3,904.8 609.3,911 C609.3,917.2 622.5,917.2 628.8,912.2" fill="none" stroke="#000" stroke-width="2.75"/>
<path d="M673.5,854 V867.3 H678.5 Q684.4,867.3 684.4,873.3 V921.4 Q684.4,927.4 678.5,927.4 H673.5 V1111.5" fill="none" stroke="#000" stroke-width="2.75"/>
<path d="M683.8,881.9 C677.5,876.9 664.3,876.9 664.3,883.1 C664.3,889.3 677.5,889.3 683.8,884.3" fill="none" stroke="#000" stroke-width="2.75"/>
<path d="M683.8,895.8 C677.5,890.8 664.3,890.8 664.3,897 C664.3,903.2 677.5,903.2 683.8,898.2" fill="none" stroke="#000" stroke-width="2.75"/>
<path d="M683.8,909.8 C677.5,904.8 664.3,904.8 664.3,911 C664.3,917.2 677.5,917.2 683.8,912.2" fill="none" stroke="#000" stroke-width="2.75"/>
<path d="M728.5,854 V871.2 H733.5 Q739.4,871.2 739.4,877.2 V925 Q739.4,931 733.5,931 H728.5 V1111.5" fill="none" stroke="#000" stroke-width="2.75"/>
<path d="M738.8,885.8 C732.5,880.8 719.3,880.8 719.3,887 C719.3,893.2 732.5,893.2 738.8,888.2" fill="none" stroke="#000" stroke-width="2.75"/>
<path d="M738.8,900.8 C732.5,895.8 719.3,895.8 719.3,902 C719.3,908.2 732.5,908.2 738.8,903.2" fill="none" stroke="#000" stroke-width="2.75"/>
<path d="M738.8,915.1 C732.5,910.1 719.3,910.1 719.3,916.3 C719.3,922.5 732.5,922.5 738.8,917.5" fill="none" stroke="#000" stroke-width="2.75"/>
<line x1="451.9" y1="1111.5" x2="730" y2="1111.5" stroke="#000" stroke-width="2.9" />
<circle cx="508" cy="1111.5" r="6.2" fill="#000"/>
<circle cx="563.5" cy="1111.5" r="6.2" fill="#000"/>
<circle cx="618.3" cy="1111.5" r="6.2" fill="#000"/>
<circle cx="673.3" cy="1111.5" r="6.2" fill="#000"/>
<line x1="563.5" y1="1111.5" x2="563.5" y2="1127.3" stroke="#000" stroke-width="2.9" />
<line x1="542.1" y1="1127.3" x2="587" y2="1127.3" stroke="#000" stroke-width="3" />
<line x1="546.9" y1="1137.6" x2="581.1" y2="1137.6" stroke="#000" stroke-width="3" />
<line x1="553" y1="1149.4" x2="576.1" y2="1149.4" stroke="#000" stroke-width="3" />
<path d="M838.7,854 V865.8 H843.7 Q849.2,865.8 849.2,871.8 V920.8 Q849.2,926.8 843.7,926.8 H838.7 V1111.2" fill="none" stroke="#000" stroke-width="2.75"/>
<path d="M848.6,880.8 C842.7,875.8 829.5,875.8 829.5,882 C829.5,888.2 842.7,888.2 848.6,883.2" fill="none" stroke="#000" stroke-width="2.75"/>
<path d="M848.6,895.2 C842.7,890.2 829.5,890.2 829.5,896.4 C829.5,902.6 842.7,902.6 848.6,897.6" fill="none" stroke="#000" stroke-width="2.75"/>
<path d="M848.6,908.8 C842.7,903.8 829.5,903.8 829.5,910 C829.5,916.2 842.7,916.2 848.6,911.2" fill="none" stroke="#000" stroke-width="2.75"/>
<polyline points="838.7,1100 838.7,1111.2 893.6,1111.2 893.6,854" fill="none" stroke="#000" stroke-width="2.75" stroke-linejoin="miter"/>
<polyline points="949.6,854 949.6,874.2 960.8,876.9 938.6,882.1 960.8,887.8 938.6,893.5 960.8,899 938.6,904.5 960.8,909.9 938.6,915.4 960.8,920.9 938.6,926.3 949.6,929 949.6,1111.2 988.3,1111.2 988.3,854" fill="none" stroke="#000" stroke-width="2.9" stroke-linejoin="bevel"/>
<line x1="927.3" y1="925.7" x2="968" y2="885" stroke="#000" stroke-width="2.9" />
<polygon points="978.5,874.3 963.3,882.4 971.1,890.7" fill="#000" stroke="#000" stroke-width="1.6" stroke-linejoin="round"/>
<text transform="translate(443.52,1091) rotate(-90)" font-size="17.5" font-weight="bold" text-anchor="start" fill="#000" textLength="154" lengthAdjust="spacingAndGlyphs" stroke="#000" stroke-width="0.35">AWD DUTY SOLENOID</text>
<text transform="translate(491.52,1091) rotate(-90)" font-size="17.5" font-weight="bold" text-anchor="start" fill="#000" textLength="186" lengthAdjust="spacingAndGlyphs" stroke="#000" stroke-width="0.35">LOCK-UP DUTY SOLENOID</text>
<text transform="translate(541.82,1091) rotate(-90)" font-size="17.5" font-weight="bold" text-anchor="start" fill="#000" textLength="196.5" lengthAdjust="spacingAndGlyphs" stroke="#000" stroke-width="0.35">2-4 BRAKE DUTY SOLENOID</text>
<text transform="translate(600.72,1090.5) rotate(-90)" font-size="17.5" font-weight="bold" text-anchor="start" fill="#000" textLength="225" lengthAdjust="spacingAndGlyphs" stroke="#000" stroke-width="0.35">LOW &amp; REVERSE DUTY SOLENOID</text>
<text transform="translate(655.72,1090.5) rotate(-90)" font-size="17.5" font-weight="bold" text-anchor="start" fill="#000" textLength="219.5" lengthAdjust="spacingAndGlyphs" stroke="#000" stroke-width="0.35">HIGH CLUTCH DUTY SOLENOID</text>
<text transform="translate(711.92,1087.9) rotate(-90)" font-size="17.5" font-weight="bold" text-anchor="start" fill="#000" textLength="215.9" lengthAdjust="spacingAndGlyphs" stroke="#000" stroke-width="0.35">LOW CLUTCH DUTY SOLENOID</text>
<text transform="translate(802.72,1085) rotate(-90)" font-size="17.5" font-weight="bold" text-anchor="start" fill="#000" textLength="142" lengthAdjust="spacingAndGlyphs" stroke="#000" stroke-width="0.35">LINE PRESSURE</text>
<text transform="translate(821.82,1085) rotate(-90)" font-size="17.5" font-weight="bold" text-anchor="start" fill="#000" textLength="163.4" lengthAdjust="spacingAndGlyphs" stroke="#000" stroke-width="0.35">LINEAR SOLENOID</text>
<text transform="translate(919.72,1146.4) rotate(-90)" font-size="17.5" font-weight="bold" text-anchor="start" fill="#000" textLength="250.9" lengthAdjust="spacingAndGlyphs" stroke="#000" stroke-width="0.35">ATF TEMPERATURE SENSOR</text>
<path d="M265.9,1088.7 L270.9,1083.7 L282.1,1083.7 L287.1,1088.7 L287.1,1119.2 L281.1,1125.2 L271.9,1125.2 L265.9,1119.2 Z" fill="#fff" stroke="#000" stroke-width="2.75"/>
<text transform="translate(282.7,1104.45) rotate(-90)" font-size="16" font-weight="bold" text-anchor="middle" fill="#000" >B</text>
<rect x="265.9" y="1127.3" width="21.2" height="22.3" fill="none" stroke="#000" stroke-width="2.8" />
<circle cx="277" cy="1175.8" r="21.5" fill="#fff" stroke="#000" stroke-width="2.8"/>
<rect x="272.5" y="1150" width="9" height="8" fill="#fff"/>
<line x1="271.7" y1="1150" x2="271.7" y2="1156.5" stroke="#000" stroke-width="2.6" />
<line x1="282.1" y1="1150" x2="282.1" y2="1156.5" stroke="#000" stroke-width="2.6" />
<text x="277" y="1186" font-size="27" font-weight="bold" text-anchor="middle" fill="#000" textLength="15.5" lengthAdjust="spacingAndGlyphs" stroke="#000" stroke-width="1.1">E</text>
<line x1="254" y1="1199.5" x2="299" y2="1199.5" stroke="#000" stroke-width="3" />
<line x1="260" y1="1210.2" x2="293.9" y2="1210.2" stroke="#000" stroke-width="3" />
<line x1="265" y1="1221.1" x2="287.9" y2="1221.1" stroke="#000" stroke-width="3" />
<path d="M344.9,1088.7 L349.9,1083.7 L361.1,1083.7 L366.1,1088.7 L366.1,1119.2 L360.1,1125.2 L350.9,1125.2 L344.9,1119.2 Z" fill="#fff" stroke="#000" stroke-width="2.75"/>
<text transform="translate(361.7,1104.45) rotate(-90)" font-size="16" font-weight="bold" text-anchor="middle" fill="#000" >B</text>
<rect x="344.9" y="1127.3" width="21.2" height="22.3" fill="none" stroke="#000" stroke-width="2.8" />
<circle cx="356" cy="1175.8" r="21.5" fill="#fff" stroke="#000" stroke-width="2.8"/>
<rect x="351.5" y="1150" width="9" height="8" fill="#fff"/>
<line x1="350.7" y1="1150" x2="350.7" y2="1156.5" stroke="#000" stroke-width="2.6" />
<line x1="361.1" y1="1150" x2="361.1" y2="1156.5" stroke="#000" stroke-width="2.6" />
<text x="356" y="1186" font-size="27" font-weight="bold" text-anchor="middle" fill="#000" textLength="15.5" lengthAdjust="spacingAndGlyphs" stroke="#000" stroke-width="1.1">E</text>
<line x1="333" y1="1199.5" x2="378" y2="1199.5" stroke="#000" stroke-width="3" />
<line x1="339" y1="1210.2" x2="372.9" y2="1210.2" stroke="#000" stroke-width="3" />
<line x1="344" y1="1221.1" x2="366.9" y2="1221.1" stroke="#000" stroke-width="3" />
<rect x="1114.6" y="888.2" width="109.6" height="343.6" fill="none" stroke="#000" stroke-width="3" />
<rect x="1291.6" y="762.6" width="53.9" height="469.2" fill="none" stroke="#000" stroke-width="3" />
<rect x="1362.3" y="762.6" width="54.6" height="469.2" fill="none" stroke="#000" stroke-width="3" />
<text transform="translate(1161.02,1123.3) rotate(-90)" font-size="17.5" font-weight="bold" text-anchor="start" fill="#000" textLength="116.5" lengthAdjust="spacingAndGlyphs" stroke="#000" stroke-width="0.35">REAR WHEEL</text>
<text transform="translate(1179.72,1164.7) rotate(-90)" font-size="17.5" font-weight="bold" text-anchor="start" fill="#000" textLength="198.6" lengthAdjust="spacingAndGlyphs" stroke="#000" stroke-width="0.35">SPEED SENSOR (AWD)</text>
<text transform="translate(1321.22,1168.6) rotate(-90)" font-size="17.5" font-weight="bold" text-anchor="start" fill="#000" textLength="274" lengthAdjust="spacingAndGlyphs" stroke="#000" stroke-width="0.35">FRONT WHEEL SPEED SENSOR</text>
<text transform="translate(1386.42,1110.6) rotate(-90)" font-size="17.5" font-weight="bold" text-anchor="start" fill="#000" textLength="190.6" lengthAdjust="spacingAndGlyphs" stroke="#000" stroke-width="0.35">TORQUE CONVERTER</text>
<text transform="translate(1406.92,1124.8) rotate(-90)" font-size="17.5" font-weight="bold" text-anchor="start" fill="#000" textLength="225.4" lengthAdjust="spacingAndGlyphs" stroke="#000" stroke-width="0.35">TURBINE SPEED SENSOR</text>
<line x1="16" y1="1249.2" x2="1452" y2="1249.2" stroke="#000" stroke-width="3.3" />
<ellipse cx="97.6" cy="1295" rx="27.3" ry="16.4" fill="#fff" stroke="#000" stroke-width="3.6"/>
<text x="97.6" y="1300.73" font-size="16" font-weight="bold" text-anchor="middle" fill="#000" textLength="40.6" lengthAdjust="spacingAndGlyphs" >AT13</text>
<ellipse cx="288.3" cy="1295.4" rx="27.3" ry="16.4" fill="#fff" stroke="#000" stroke-width="3.6"/>
<text x="288.3" y="1301.13" font-size="16" font-weight="bold" text-anchor="middle" fill="#000" textLength="40" lengthAdjust="spacingAndGlyphs" >AT11</text>
<ellipse cx="468.3" cy="1295.4" rx="27.3" ry="16.4" fill="#fff" stroke="#000" stroke-width="3.6"/>
<text x="468.3" y="1301.13" font-size="16" font-weight="bold" text-anchor="middle" fill="#000" textLength="40" lengthAdjust="spacingAndGlyphs" >AT12</text>
<ellipse cx="665.2" cy="1295.4" rx="27.3" ry="16.4" fill="#fff" stroke="#000" stroke-width="3.6"/>
<text x="665.2" y="1301.13" font-size="16" font-weight="bold" text-anchor="middle" fill="#000" textLength="31" lengthAdjust="spacingAndGlyphs" >B11</text>
<ellipse cx="953.5" cy="1295" rx="27.3" ry="16.4" fill="#fff" stroke="#000" stroke-width="3.6"/>
<text x="953.5" y="1300.73" font-size="16" font-weight="bold" text-anchor="middle" fill="#000" textLength="32" lengthAdjust="spacingAndGlyphs" >B54</text>
<ellipse cx="1277.5" cy="1295" rx="27.3" ry="16.4" fill="#fff" stroke="#000" stroke-width="3.6"/>
<text x="1277.5" y="1300.73" font-size="16" font-weight="bold" text-anchor="middle" fill="#000" textLength="32" lengthAdjust="spacingAndGlyphs" >B55</text>
<path d="M92.4,1336.4 V1330.3 H104.5 V1336.4 H132 C140,1336.4 142.6,1345 142.6,1350.3 H148.4 V1356 H142.6 C142.6,1362 139,1369.9 132,1369.9 H66 C58,1369.9 54.2,1362 54.2,1356 H48.2 V1350.3 H54.2 C54.2,1345 57,1336.4 66,1336.4 Z" fill="#fff" stroke="#000" stroke-width="1.9"/>
<rect x="65.3" y="1342.3" width="65.4" height="21.1" fill="none" stroke="#000" stroke-width="2" />
<line x1="86.6" y1="1342.3" x2="86.6" y2="1363.4" stroke="#000" stroke-width="1.6" />
<line x1="109.1" y1="1342.3" x2="109.1" y2="1363.4" stroke="#000" stroke-width="1.6" />
<text x="76.3" y="1358.4" font-size="16" font-weight="normal" text-anchor="middle" fill="#000" >1</text>
<text x="98" y="1358.4" font-size="16" font-weight="normal" text-anchor="middle" fill="#000" >2</text>
<text x="120" y="1358.4" font-size="16" font-weight="normal" text-anchor="middle" fill="#000" >3</text>
<rect x="282.2" y="1330.5" width="12.6" height="6.1" fill="none" stroke="#000" stroke-width="1.6" />
<rect x="266.3" y="1336.6" width="44.1" height="43.7" fill="none" stroke="#000" stroke-width="1.8" />
<line x1="288.4" y1="1336.6" x2="288.4" y2="1380.3" stroke="#000" stroke-width="1.4" />
<line x1="266.3" y1="1358.5" x2="310.4" y2="1358.5" stroke="#000" stroke-width="1.4" />
<text x="277.6" y="1353.1" font-size="16" font-weight="normal" text-anchor="middle" fill="#000" >1</text>
<text x="299.5" y="1353.1" font-size="16" font-weight="normal" text-anchor="middle" fill="#000" >2</text>
<text x="277.6" y="1375.1" font-size="16" font-weight="normal" text-anchor="middle" fill="#000" >3</text>
<text x="299.5" y="1375.1" font-size="16" font-weight="normal" text-anchor="middle" fill="#000" >4</text>
<rect x="456.5" y="1330.5" width="23.2" height="6.1" fill="none" stroke="#000" stroke-width="1.6" />
<rect x="434" y="1336.6" width="67.6" height="43.7" fill="none" stroke="#000" stroke-width="1.8" />
<line x1="456.5" y1="1336.6" x2="456.5" y2="1380.3" stroke="#000" stroke-width="1.4" />
<line x1="479.7" y1="1336.6" x2="479.7" y2="1380.3" stroke="#000" stroke-width="1.4" />
<line x1="434" y1="1358.5" x2="501.6" y2="1358.5" stroke="#000" stroke-width="1.4" />
<text x="445.2" y="1353.1" font-size="16" font-weight="normal" text-anchor="middle" fill="#000" >1</text>
<text x="445.2" y="1375.1" font-size="16" font-weight="normal" text-anchor="middle" fill="#000" >4</text>
<text x="468" y="1353.1" font-size="16" font-weight="normal" text-anchor="middle" fill="#000" >2</text>
<text x="468" y="1375.1" font-size="16" font-weight="normal" text-anchor="middle" fill="#000" >5</text>
<text x="490.8" y="1353.1" font-size="16" font-weight="normal" text-anchor="middle" fill="#000" >3</text>
<text x="490.8" y="1375.1" font-size="16" font-weight="normal" text-anchor="middle" fill="#000" >6</text>
<text x="702" y="1284" font-size="15.5" font-weight="normal" text-anchor="start" fill="#000" textLength="21.3" lengthAdjust="spacingAndGlyphs" >HR</text>
<text x="699.6" y="1300.6" font-size="15.5" font-weight="normal" text-anchor="start" fill="#000" textLength="62.4" lengthAdjust="spacingAndGlyphs" >(GRAY)</text>
<polyline points="632.3,1342.4 632.3,1330.6 698.2,1330.6 698.2,1342.4" fill="none" stroke="#000" stroke-width="1.5" />
<rect x="610.6" y="1342.4" width="21.7" height="22.1" fill="none" stroke="#000" stroke-width="1.7" />
<text x="621.45" y="1359.05" font-size="16" font-weight="normal" text-anchor="middle" fill="#000" >1</text>
<rect x="632.3" y="1342.4" width="22.2" height="22.1" fill="none" stroke="#000" stroke-width="1.7" />
<text x="643.4" y="1359.05" font-size="16" font-weight="normal" text-anchor="middle" fill="#000" >2</text>
<rect x="676.5" y="1342.4" width="21.7" height="22.1" fill="none" stroke="#000" stroke-width="1.7" />
<text x="687.35" y="1359.05" font-size="16" font-weight="normal" text-anchor="middle" fill="#000" >3</text>
<rect x="698.2" y="1342.4" width="22.2" height="22.1" fill="none" stroke="#000" stroke-width="1.7" />
<text x="709.3" y="1359.05" font-size="16" font-weight="normal" text-anchor="middle" fill="#000" >4</text>
<rect x="610.6" y="1386.3" width="21.7" height="22" fill="none" stroke="#000" stroke-width="1.7" />
<text x="621.45" y="1402.9" font-size="16" font-weight="normal" text-anchor="middle" fill="#000" >9</text>
<rect x="632.3" y="1386.3" width="22.2" height="22" fill="none" stroke="#000" stroke-width="1.7" />
<text x="643.4" y="1402.9" font-size="16" font-weight="normal" text-anchor="middle" fill="#000" textLength="14" lengthAdjust="spacingAndGlyphs" >10</text>
<rect x="654.5" y="1386.3" width="22" height="22" fill="none" stroke="#000" stroke-width="1.7" />
<line x1="654.5" y1="1386.3" x2="676.5" y2="1408.3" stroke="#000" stroke-width="1.7" />
<line x1="654.5" y1="1408.3" x2="676.5" y2="1386.3" stroke="#000" stroke-width="1.7" />
<rect x="676.5" y="1386.3" width="21.7" height="22" fill="none" stroke="#000" stroke-width="1.7" />
<text x="687.35" y="1402.9" font-size="16" font-weight="normal" text-anchor="middle" fill="#000" textLength="14" lengthAdjust="spacingAndGlyphs" >11</text>
<rect x="698.2" y="1386.3" width="22.2" height="22" fill="none" stroke="#000" stroke-width="1.7" />
<text x="709.3" y="1402.9" font-size="16" font-weight="normal" text-anchor="middle" fill="#000" textLength="14" lengthAdjust="spacingAndGlyphs" >12</text>
<rect x="610.6" y="1430.1" width="21.7" height="22.4" fill="none" stroke="#000" stroke-width="1.7" />
<text x="621.45" y="1446.9" font-size="16" font-weight="normal" text-anchor="middle" fill="#000" textLength="14" lengthAdjust="spacingAndGlyphs" >17</text>
<rect x="632.3" y="1430.1" width="22.2" height="22.4" fill="none" stroke="#000" stroke-width="1.7" />
<text x="643.4" y="1446.9" font-size="16" font-weight="normal" text-anchor="middle" fill="#000" textLength="14" lengthAdjust="spacingAndGlyphs" >18</text>
<rect x="676.5" y="1430.1" width="21.7" height="22.4" fill="none" stroke="#000" stroke-width="1.7" />
<text x="687.35" y="1446.9" font-size="16" font-weight="normal" text-anchor="middle" fill="#000" textLength="14" lengthAdjust="spacingAndGlyphs" >19</text>
<rect x="698.2" y="1430.1" width="22.2" height="22.4" fill="none" stroke="#000" stroke-width="1.7" />
<text x="709.3" y="1446.9" font-size="16" font-weight="normal" text-anchor="middle" fill="#000" textLength="14" lengthAdjust="spacingAndGlyphs" >20</text>
<rect x="599.7" y="1364.5" width="21.7" height="21.8" fill="none" stroke="#000" stroke-width="1.7" />
<text x="610.55" y="1381" font-size="16" font-weight="normal" text-anchor="middle" fill="#000" >5</text>
<rect x="621.4" y="1364.5" width="22.5" height="21.8" fill="none" stroke="#000" stroke-width="1.7" />
<line x1="621.4" y1="1364.5" x2="643.9" y2="1386.3" stroke="#000" stroke-width="1.7" />
<line x1="621.4" y1="1386.3" x2="643.9" y2="1364.5" stroke="#000" stroke-width="1.7" />
<rect x="643.9" y="1364.5" width="21.7" height="21.8" fill="none" stroke="#000" stroke-width="1.7" />
<text x="654.75" y="1381" font-size="16" font-weight="normal" text-anchor="middle" fill="#000" >6</text>
<rect x="665.6" y="1364.5" width="22.1" height="21.8" fill="none" stroke="#000" stroke-width="1.7" />
<text x="676.65" y="1381" font-size="16" font-weight="normal" text-anchor="middle" fill="#000" >7</text>
<rect x="687.7" y="1364.5" width="22.1" height="21.8" fill="none" stroke="#000" stroke-width="1.7" />
<line x1="687.7" y1="1364.5" x2="709.8" y2="1386.3" stroke="#000" stroke-width="1.7" />
<line x1="687.7" y1="1386.3" x2="709.8" y2="1364.5" stroke="#000" stroke-width="1.7" />
<rect x="709.8" y="1364.5" width="22.4" height="21.8" fill="none" stroke="#000" stroke-width="1.7" />
<text x="721" y="1381" font-size="16" font-weight="normal" text-anchor="middle" fill="#000" >8</text>
<rect x="599.7" y="1364.5" width="132.5" height="21.8" fill="none" stroke="#000" stroke-width="2.2" />
<rect x="599.7" y="1408.3" width="21.7" height="21.8" fill="none" stroke="#000" stroke-width="1.7" />
<text x="610.55" y="1424.8" font-size="16" font-weight="normal" text-anchor="middle" fill="#000" textLength="14" lengthAdjust="spacingAndGlyphs" >13</text>
<rect x="621.4" y="1408.3" width="22.5" height="21.8" fill="none" stroke="#000" stroke-width="1.7" />
<line x1="621.4" y1="1408.3" x2="643.9" y2="1430.1" stroke="#000" stroke-width="1.7" />
<line x1="621.4" y1="1430.1" x2="643.9" y2="1408.3" stroke="#000" stroke-width="1.7" />
<rect x="643.9" y="1408.3" width="21.7" height="21.8" fill="none" stroke="#000" stroke-width="1.7" />
<text x="654.75" y="1424.8" font-size="16" font-weight="normal" text-anchor="middle" fill="#000" textLength="14" lengthAdjust="spacingAndGlyphs" >14</text>
<rect x="665.6" y="1408.3" width="22.1" height="21.8" fill="none" stroke="#000" stroke-width="1.7" />
<text x="676.65" y="1424.8" font-size="16" font-weight="normal" text-anchor="middle" fill="#000" textLength="14" lengthAdjust="spacingAndGlyphs" >15</text>
<rect x="687.7" y="1408.3" width="22.1" height="21.8" fill="none" stroke="#000" stroke-width="1.7" />
<line x1="687.7" y1="1408.3" x2="709.8" y2="1430.1" stroke="#000" stroke-width="1.7" />
<line x1="687.7" y1="1430.1" x2="709.8" y2="1408.3" stroke="#000" stroke-width="1.7" />
<rect x="709.8" y="1408.3" width="22.4" height="21.8" fill="none" stroke="#000" stroke-width="1.7" />
<text x="721" y="1424.8" font-size="16" font-weight="normal" text-anchor="middle" fill="#000" textLength="14" lengthAdjust="spacingAndGlyphs" >16</text>
<rect x="599.7" y="1408.3" width="132.5" height="21.8" fill="none" stroke="#000" stroke-width="2.2" />
<rect x="588.4" y="1413.5" width="11.3" height="11.8" fill="none" stroke="#000" stroke-width="1.8" />
<rect x="732.2" y="1413.5" width="11.3" height="11.8" fill="none" stroke="#000" stroke-width="1.8" />
<text x="903.3" y="1300.9" font-size="15.5" font-weight="bold" text-anchor="start" fill="#000" textLength="15" lengthAdjust="spacingAndGlyphs" >A:</text>
<text x="988.7" y="1289.7" font-size="15.5" font-weight="bold" text-anchor="start" fill="#000" textLength="22.6" lengthAdjust="spacingAndGlyphs" >HR</text>
<rect x="838.6" y="1330.7" width="33.6" height="21.2" fill="none" stroke="#000" stroke-width="1.7" />
<text x="855.4" y="1346.9" font-size="16" font-weight="normal" text-anchor="middle" fill="#000" >1</text>
<rect x="872.2" y="1330.7" width="34.1" height="21.2" fill="none" stroke="#000" stroke-width="1.7" />
<text x="889.25" y="1346.9" font-size="16" font-weight="normal" text-anchor="middle" fill="#000" >2</text>
<rect x="906.3" y="1330.7" width="32.6" height="21.2" fill="none" stroke="#000" stroke-width="1.7" />
<text x="922.6" y="1346.9" font-size="16" font-weight="normal" text-anchor="middle" fill="#000" >3</text>
<rect x="938.9" y="1330.7" width="33.2" height="21.2" fill="none" stroke="#000" stroke-width="1.7" />
<text x="955.5" y="1346.9" font-size="16" font-weight="normal" text-anchor="middle" fill="#000" >4</text>
<rect x="993.7" y="1330.7" width="32.7" height="21.2" fill="none" stroke="#000" stroke-width="1.7" />
<text x="1010.05" y="1346.9" font-size="16" font-weight="normal" text-anchor="middle" fill="#000" >5</text>
<rect x="1026.4" y="1330.7" width="34" height="21.2" fill="none" stroke="#000" stroke-width="1.7" />
<text x="1043.4" y="1346.9" font-size="16" font-weight="normal" text-anchor="middle" fill="#000" >6</text>
<rect x="838.6" y="1351.9" width="22.18" height="22.6" fill="none" stroke="#000" stroke-width="1.7" />
<text x="849.69" y="1368.8" font-size="16" font-weight="normal" text-anchor="middle" fill="#000" >7</text>
<rect x="860.78" y="1351.9" width="22.18" height="22.6" fill="none" stroke="#000" stroke-width="1.7" />
<text x="871.87" y="1368.8" font-size="16" font-weight="normal" text-anchor="middle" fill="#000" >8</text>
<rect x="882.96" y="1351.9" width="22.18" height="22.6" fill="none" stroke="#000" stroke-width="1.7" />
<text x="894.05" y="1368.8" font-size="16" font-weight="normal" text-anchor="middle" fill="#000" >9</text>
<rect x="905.14" y="1351.9" width="22.18" height="22.6" fill="none" stroke="#000" stroke-width="1.7" />
<text x="916.23" y="1368.8" font-size="16" font-weight="normal" text-anchor="middle" fill="#000" textLength="15" lengthAdjust="spacingAndGlyphs" >10</text>
<rect x="927.32" y="1351.9" width="22.18" height="22.6" fill="none" stroke="#000" stroke-width="1.7" />
<text x="938.41" y="1368.8" font-size="16" font-weight="normal" text-anchor="middle" fill="#000" textLength="15" lengthAdjust="spacingAndGlyphs" >11</text>
<rect x="949.5" y="1351.9" width="22.18" height="22.6" fill="none" stroke="#000" stroke-width="1.7" />
<text x="960.59" y="1368.8" font-size="16" font-weight="normal" text-anchor="middle" fill="#000" textLength="15" lengthAdjust="spacingAndGlyphs" >12</text>
<rect x="971.68" y="1351.9" width="22.18" height="22.6" fill="none" stroke="#000" stroke-width="1.7" />
<text x="982.77" y="1368.8" font-size="16" font-weight="normal" text-anchor="middle" fill="#000" textLength="15" lengthAdjust="spacingAndGlyphs" >13</text>
<rect x="993.86" y="1351.9" width="22.18" height="22.6" fill="none" stroke="#000" stroke-width="1.7" />
<text x="1004.95" y="1368.8" font-size="16" font-weight="normal" text-anchor="middle" fill="#000" textLength="15" lengthAdjust="spacingAndGlyphs" >14</text>
<rect x="1016.04" y="1351.9" width="22.18" height="22.6" fill="none" stroke="#000" stroke-width="1.7" />
<text x="1027.13" y="1368.8" font-size="16" font-weight="normal" text-anchor="middle" fill="#000" textLength="15" lengthAdjust="spacingAndGlyphs" >15</text>
<rect x="1038.22" y="1351.9" width="22.18" height="22.6" fill="none" stroke="#000" stroke-width="1.7" />
<text x="1049.31" y="1368.8" font-size="16" font-weight="normal" text-anchor="middle" fill="#000" textLength="15" lengthAdjust="spacingAndGlyphs" >16</text>
<rect x="816.7" y="1374.5" width="22.15" height="22.1" fill="none" stroke="#000" stroke-width="1.7" />
<text x="827.78" y="1391.15" font-size="16" font-weight="normal" text-anchor="middle" fill="#000" textLength="15" lengthAdjust="spacingAndGlyphs" >17</text>
<rect x="838.85" y="1374.5" width="22.15" height="22.1" fill="none" stroke="#000" stroke-width="1.7" />
<text x="849.93" y="1391.15" font-size="16" font-weight="normal" text-anchor="middle" fill="#000" textLength="15" lengthAdjust="spacingAndGlyphs" >18</text>
<rect x="861.01" y="1374.5" width="22.15" height="22.1" fill="none" stroke="#000" stroke-width="1.7" />
<text x="872.09" y="1391.15" font-size="16" font-weight="normal" text-anchor="middle" fill="#000" textLength="15" lengthAdjust="spacingAndGlyphs" >19</text>
<rect x="883.16" y="1374.5" width="22.15" height="22.1" fill="none" stroke="#000" stroke-width="1.7" />
<text x="894.24" y="1391.15" font-size="16" font-weight="normal" text-anchor="middle" fill="#000" textLength="15" lengthAdjust="spacingAndGlyphs" >20</text>
<rect x="905.32" y="1374.5" width="22.15" height="22.1" fill="none" stroke="#000" stroke-width="1.7" />
<text x="916.4" y="1391.15" font-size="16" font-weight="normal" text-anchor="middle" fill="#000" textLength="15" lengthAdjust="spacingAndGlyphs" >21</text>
<rect x="927.47" y="1374.5" width="22.15" height="22.1" fill="none" stroke="#000" stroke-width="1.7" />
<text x="938.55" y="1391.15" font-size="16" font-weight="normal" text-anchor="middle" fill="#000" textLength="15" lengthAdjust="spacingAndGlyphs" >22</text>
<rect x="949.63" y="1374.5" width="22.15" height="22.1" fill="none" stroke="#000" stroke-width="1.7" />
<text x="960.7" y="1391.15" font-size="16" font-weight="normal" text-anchor="middle" fill="#000" textLength="15" lengthAdjust="spacingAndGlyphs" >23</text>
<rect x="971.78" y="1374.5" width="22.15" height="22.1" fill="none" stroke="#000" stroke-width="1.7" />
<text x="982.86" y="1391.15" font-size="16" font-weight="normal" text-anchor="middle" fill="#000" textLength="15" lengthAdjust="spacingAndGlyphs" >24</text>
<rect x="993.94" y="1374.5" width="22.15" height="22.1" fill="none" stroke="#000" stroke-width="1.7" />
<text x="1005.01" y="1391.15" font-size="16" font-weight="normal" text-anchor="middle" fill="#000" textLength="15" lengthAdjust="spacingAndGlyphs" >25</text>
<rect x="1016.09" y="1374.5" width="22.15" height="22.1" fill="none" stroke="#000" stroke-width="1.7" />
<text x="1027.17" y="1391.15" font-size="16" font-weight="normal" text-anchor="middle" fill="#000" textLength="15" lengthAdjust="spacingAndGlyphs" >26</text>
<rect x="1038.25" y="1374.5" width="22.15" height="22.1" fill="none" stroke="#000" stroke-width="1.7" />
<text x="1049.32" y="1391.15" font-size="16" font-weight="normal" text-anchor="middle" fill="#000" textLength="15" lengthAdjust="spacingAndGlyphs" >27</text>
<rect x="816.7" y="1396.6" width="22.15" height="22.4" fill="none" stroke="#000" stroke-width="1.7" />
<text x="827.78" y="1413.4" font-size="16" font-weight="normal" text-anchor="middle" fill="#000" textLength="15" lengthAdjust="spacingAndGlyphs" >28</text>
<rect x="838.85" y="1396.6" width="22.15" height="22.4" fill="none" stroke="#000" stroke-width="1.7" />
<text x="849.93" y="1413.4" font-size="16" font-weight="normal" text-anchor="middle" fill="#000" textLength="15" lengthAdjust="spacingAndGlyphs" >29</text>
<rect x="861.01" y="1396.6" width="22.15" height="22.4" fill="none" stroke="#000" stroke-width="1.7" />
<text x="872.09" y="1413.4" font-size="16" font-weight="normal" text-anchor="middle" fill="#000" textLength="15" lengthAdjust="spacingAndGlyphs" >30</text>
<rect x="949.63" y="1396.6" width="22.15" height="22.4" fill="none" stroke="#000" stroke-width="1.7" />
<text x="960.7" y="1413.4" font-size="16" font-weight="normal" text-anchor="middle" fill="#000" textLength="15" lengthAdjust="spacingAndGlyphs" >31</text>
<rect x="971.78" y="1396.6" width="22.15" height="22.4" fill="none" stroke="#000" stroke-width="1.7" />
<text x="982.86" y="1413.4" font-size="16" font-weight="normal" text-anchor="middle" fill="#000" textLength="15" lengthAdjust="spacingAndGlyphs" >32</text>
<rect x="993.94" y="1396.6" width="22.15" height="22.4" fill="none" stroke="#000" stroke-width="1.7" />
<text x="1005.01" y="1413.4" font-size="16" font-weight="normal" text-anchor="middle" fill="#000" textLength="15" lengthAdjust="spacingAndGlyphs" >33</text>
<rect x="1016.09" y="1396.6" width="22.15" height="22.4" fill="none" stroke="#000" stroke-width="1.7" />
<text x="1027.17" y="1413.4" font-size="16" font-weight="normal" text-anchor="middle" fill="#000" textLength="15" lengthAdjust="spacingAndGlyphs" >34</text>
<rect x="1038.25" y="1396.6" width="22.15" height="22.4" fill="none" stroke="#000" stroke-width="1.7" />
<text x="1049.32" y="1413.4" font-size="16" font-weight="normal" text-anchor="middle" fill="#000" textLength="15" lengthAdjust="spacingAndGlyphs" >35</text>
<path d="M838.6,1330.7 H972.1 V1351.9 H993.7 V1330.7 H1060.4 V1419 H949.5 V1396.6 H883.2 V1419 H816.7 V1374.5 H838.6 Z" fill="none" stroke="#000" stroke-width="2.2"/>
<text x="1226.8" y="1300.7" font-size="15.5" font-weight="bold" text-anchor="start" fill="#000" textLength="15" lengthAdjust="spacingAndGlyphs" >B:</text>
<text x="1310.8" y="1288.8" font-size="15.5" font-weight="bold" text-anchor="start" fill="#000" textLength="22" lengthAdjust="spacingAndGlyphs" >HR</text>
<rect x="1144.7" y="1330.6" width="33.2" height="22" fill="none" stroke="#000" stroke-width="1.7" />
<text x="1161.3" y="1347.2" font-size="16" font-weight="normal" text-anchor="middle" fill="#000" >1</text>
<rect x="1177.9" y="1330.6" width="33.2" height="22" fill="none" stroke="#000" stroke-width="1.7" />
<text x="1194.5" y="1347.2" font-size="16" font-weight="normal" text-anchor="middle" fill="#000" >2</text>
<rect x="1244.5" y="1330.6" width="32.6" height="22" fill="none" stroke="#000" stroke-width="1.7" />
<text x="1260.8" y="1347.2" font-size="16" font-weight="normal" text-anchor="middle" fill="#000" >3</text>
<rect x="1277.1" y="1330.6" width="33.3" height="22" fill="none" stroke="#000" stroke-width="1.7" />
<text x="1293.75" y="1347.2" font-size="16" font-weight="normal" text-anchor="middle" fill="#000" >4</text>
<rect x="1310.4" y="1330.6" width="33" height="22" fill="none" stroke="#000" stroke-width="1.7" />
<text x="1326.9" y="1347.2" font-size="16" font-weight="normal" text-anchor="middle" fill="#000" >5</text>
<rect x="1343.4" y="1330.6" width="32.8" height="22" fill="none" stroke="#000" stroke-width="1.7" />
<text x="1359.8" y="1347.2" font-size="16" font-weight="normal" text-anchor="middle" fill="#000" >6</text>
<rect x="1376.2" y="1330.6" width="34" height="22" fill="none" stroke="#000" stroke-width="1.7" />
<text x="1393.2" y="1347.2" font-size="16" font-weight="normal" text-anchor="middle" fill="#000" >7</text>
<rect x="1144.7" y="1352.6" width="22.12" height="22.4" fill="none" stroke="#000" stroke-width="1.7" />
<text x="1155.76" y="1369.4" font-size="16" font-weight="normal" text-anchor="middle" fill="#000" >8</text>
<rect x="1166.83" y="1352.6" width="22.12" height="22.4" fill="none" stroke="#000" stroke-width="1.7" />
<text x="1177.89" y="1369.4" font-size="16" font-weight="normal" text-anchor="middle" fill="#000" >9</text>
<rect x="1188.95" y="1352.6" width="22.12" height="22.4" fill="none" stroke="#000" stroke-width="1.7" />
<text x="1200.01" y="1369.4" font-size="16" font-weight="normal" text-anchor="middle" fill="#000" textLength="15" lengthAdjust="spacingAndGlyphs" >10</text>
<rect x="1211.08" y="1352.6" width="22.12" height="22.4" fill="none" stroke="#000" stroke-width="1.7" />
<text x="1222.14" y="1369.4" font-size="16" font-weight="normal" text-anchor="middle" fill="#000" textLength="15" lengthAdjust="spacingAndGlyphs" >11</text>
<rect x="1233.2" y="1352.6" width="22.12" height="22.4" fill="none" stroke="#000" stroke-width="1.7" />
<text x="1244.26" y="1369.4" font-size="16" font-weight="normal" text-anchor="middle" fill="#000" textLength="15" lengthAdjust="spacingAndGlyphs" >12</text>
<rect x="1255.33" y="1352.6" width="22.12" height="22.4" fill="none" stroke="#000" stroke-width="1.7" />
<text x="1266.39" y="1369.4" font-size="16" font-weight="normal" text-anchor="middle" fill="#000" textLength="15" lengthAdjust="spacingAndGlyphs" >13</text>
<rect x="1277.45" y="1352.6" width="22.12" height="22.4" fill="none" stroke="#000" stroke-width="1.7" />
<text x="1288.51" y="1369.4" font-size="16" font-weight="normal" text-anchor="middle" fill="#000" textLength="15" lengthAdjust="spacingAndGlyphs" >14</text>
<rect x="1299.58" y="1352.6" width="22.12" height="22.4" fill="none" stroke="#000" stroke-width="1.7" />
<text x="1310.64" y="1369.4" font-size="16" font-weight="normal" text-anchor="middle" fill="#000" textLength="15" lengthAdjust="spacingAndGlyphs" >15</text>
<rect x="1321.7" y="1352.6" width="22.12" height="22.4" fill="none" stroke="#000" stroke-width="1.7" />
<text x="1332.76" y="1369.4" font-size="16" font-weight="normal" text-anchor="middle" fill="#000" textLength="15" lengthAdjust="spacingAndGlyphs" >16</text>
<rect x="1343.83" y="1352.6" width="22.12" height="22.4" fill="none" stroke="#000" stroke-width="1.7" />
<text x="1354.89" y="1369.4" font-size="16" font-weight="normal" text-anchor="middle" fill="#000" textLength="15" lengthAdjust="spacingAndGlyphs" >17</text>
<rect x="1365.95" y="1352.6" width="22.12" height="22.4" fill="none" stroke="#000" stroke-width="1.7" />
<text x="1377.01" y="1369.4" font-size="16" font-weight="normal" text-anchor="middle" fill="#000" textLength="15" lengthAdjust="spacingAndGlyphs" >18</text>
<rect x="1388.08" y="1352.6" width="22.12" height="22.4" fill="none" stroke="#000" stroke-width="1.7" />
<text x="1399.14" y="1369.4" font-size="16" font-weight="normal" text-anchor="middle" fill="#000" textLength="15" lengthAdjust="spacingAndGlyphs" >19</text>
<rect x="1144.7" y="1375" width="22.12" height="22" fill="none" stroke="#000" stroke-width="1.7" />
<text x="1155.76" y="1391.6" font-size="16" font-weight="normal" text-anchor="middle" fill="#000" textLength="15" lengthAdjust="spacingAndGlyphs" >20</text>
<rect x="1144.7" y="1397" width="22.12" height="21.9" fill="none" stroke="#000" stroke-width="1.7" />
<text x="1155.76" y="1413.55" font-size="16" font-weight="normal" text-anchor="middle" fill="#000" textLength="15" lengthAdjust="spacingAndGlyphs" >28</text>
<rect x="1166.83" y="1375" width="22.12" height="22" fill="none" stroke="#000" stroke-width="1.7" />
<text x="1177.89" y="1391.6" font-size="16" font-weight="normal" text-anchor="middle" fill="#000" textLength="15" lengthAdjust="spacingAndGlyphs" >21</text>
<rect x="1166.83" y="1397" width="22.12" height="21.9" fill="none" stroke="#000" stroke-width="1.7" />
<text x="1177.89" y="1413.55" font-size="16" font-weight="normal" text-anchor="middle" fill="#000" textLength="15" lengthAdjust="spacingAndGlyphs" >29</text>
<rect x="1188.95" y="1375" width="22.12" height="22" fill="none" stroke="#000" stroke-width="1.7" />
<text x="1200.01" y="1391.6" font-size="16" font-weight="normal" text-anchor="middle" fill="#000" textLength="15" lengthAdjust="spacingAndGlyphs" >22</text>
<rect x="1188.95" y="1397" width="22.12" height="21.9" fill="none" stroke="#000" stroke-width="1.7" />
<text x="1200.01" y="1413.55" font-size="16" font-weight="normal" text-anchor="middle" fill="#000" textLength="15" lengthAdjust="spacingAndGlyphs" >30</text>
<rect x="1211.08" y="1375" width="22.12" height="22" fill="none" stroke="#000" stroke-width="1.7" />
<text x="1222.14" y="1391.6" font-size="16" font-weight="normal" text-anchor="middle" fill="#000" textLength="15" lengthAdjust="spacingAndGlyphs" >23</text>
<rect x="1211.08" y="1397" width="22.12" height="21.9" fill="none" stroke="#000" stroke-width="1.7" />
<text x="1222.14" y="1413.55" font-size="16" font-weight="normal" text-anchor="middle" fill="#000" textLength="15" lengthAdjust="spacingAndGlyphs" >31</text>
<rect x="1277.45" y="1375" width="22.12" height="22" fill="none" stroke="#000" stroke-width="1.7" />
<text x="1288.51" y="1391.6" font-size="16" font-weight="normal" text-anchor="middle" fill="#000" textLength="15" lengthAdjust="spacingAndGlyphs" >24</text>
<rect x="1277.45" y="1397" width="22.12" height="21.9" fill="none" stroke="#000" stroke-width="1.7" />
<text x="1288.51" y="1413.55" font-size="16" font-weight="normal" text-anchor="middle" fill="#000" textLength="15" lengthAdjust="spacingAndGlyphs" >32</text>
<rect x="1299.58" y="1375" width="22.12" height="22" fill="none" stroke="#000" stroke-width="1.7" />
<text x="1310.64" y="1391.6" font-size="16" font-weight="normal" text-anchor="middle" fill="#000" textLength="15" lengthAdjust="spacingAndGlyphs" >25</text>
<rect x="1299.58" y="1397" width="22.12" height="21.9" fill="none" stroke="#000" stroke-width="1.7" />
<text x="1310.64" y="1413.55" font-size="16" font-weight="normal" text-anchor="middle" fill="#000" textLength="15" lengthAdjust="spacingAndGlyphs" >33</text>
<rect x="1365.95" y="1375" width="22.12" height="22" fill="none" stroke="#000" stroke-width="1.7" />
<text x="1377.01" y="1391.6" font-size="16" font-weight="normal" text-anchor="middle" fill="#000" textLength="15" lengthAdjust="spacingAndGlyphs" >26</text>
<rect x="1365.95" y="1397" width="22.12" height="21.9" fill="none" stroke="#000" stroke-width="1.7" />
<text x="1377.01" y="1413.55" font-size="16" font-weight="normal" text-anchor="middle" fill="#000" textLength="15" lengthAdjust="spacingAndGlyphs" >34</text>
<rect x="1388.08" y="1375" width="22.12" height="22" fill="none" stroke="#000" stroke-width="1.7" />
<text x="1399.14" y="1391.6" font-size="16" font-weight="normal" text-anchor="middle" fill="#000" textLength="15" lengthAdjust="spacingAndGlyphs" >27</text>
<rect x="1388.08" y="1397" width="22.12" height="21.9" fill="none" stroke="#000" stroke-width="1.7" />
<text x="1399.14" y="1413.55" font-size="16" font-weight="normal" text-anchor="middle" fill="#000" textLength="15" lengthAdjust="spacingAndGlyphs" >35</text>
<path d="M1144.7,1330.6 H1211.1 V1352.6 H1244.5 V1330.6 H1410.2 V1418.9 H1366 V1375 H1321.2 V1418.9 H1276.7 V1375 H1233.5 V1418.9 H1144.7 Z" fill="none" stroke="#000" stroke-width="2.2"/>
<text x="1352.3" y="1578" font-size="21" font-weight="normal" text-anchor="start" fill="#000" textLength="89.7" lengthAdjust="spacingAndGlyphs" >WI-11615</text>
</svg>
</body></html>
